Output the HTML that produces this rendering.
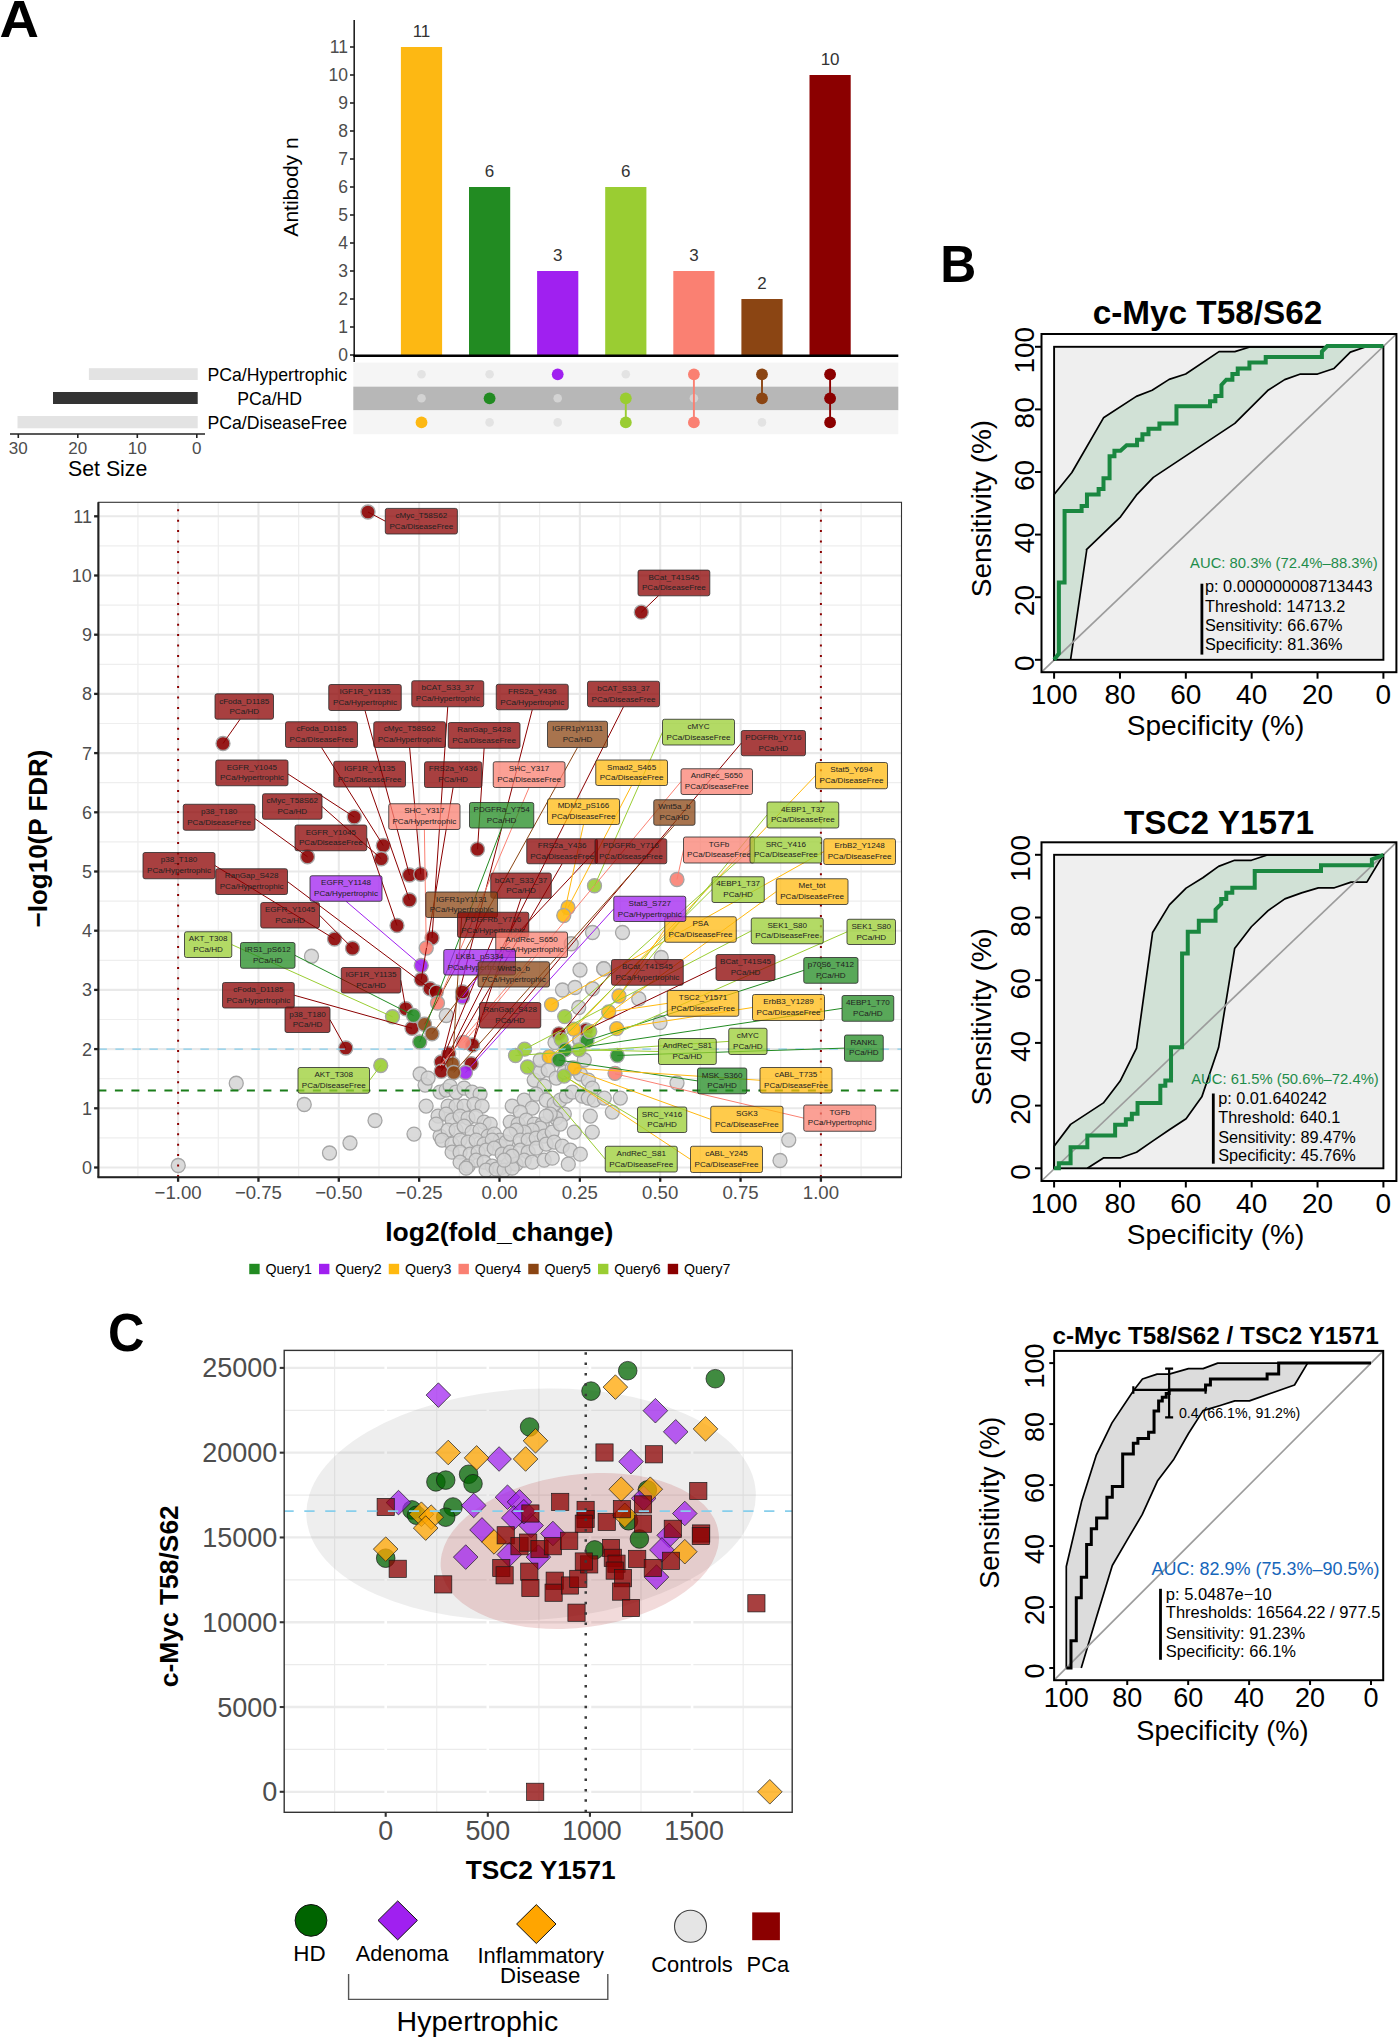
<!DOCTYPE html>
<html><head><meta charset="utf-8"><style>html,body{margin:0;padding:0;background:#fff;overflow:hidden;}svg{display:block;}text{font-family:"Liberation Sans",sans-serif;}</style></head><body><svg width="1398" height="2037" viewBox="0 0 1398 2037"><rect width="1398" height="2037" fill="#fff"/><text x="0" y="0" font-size="52.5" font-weight="bold" fill="#000" transform="translate(-0.6,36.9) scale(1.04,1)">A</text>
<line x1="354.2" y1="20" x2="354.2" y2="362" stroke="#222" stroke-width="1.6"/>
<line x1="350" y1="355.00" x2="354" y2="355.00" stroke="#222" stroke-width="1.6"/>
<text x="348.00" y="361.30" font-size="17.5" text-anchor="end" fill="#4d4d4d" >0</text>
<line x1="350" y1="327.00" x2="354" y2="327.00" stroke="#222" stroke-width="1.6"/>
<text x="348.00" y="333.30" font-size="17.5" text-anchor="end" fill="#4d4d4d" >1</text>
<line x1="350" y1="299.00" x2="354" y2="299.00" stroke="#222" stroke-width="1.6"/>
<text x="348.00" y="305.30" font-size="17.5" text-anchor="end" fill="#4d4d4d" >2</text>
<line x1="350" y1="271.00" x2="354" y2="271.00" stroke="#222" stroke-width="1.6"/>
<text x="348.00" y="277.30" font-size="17.5" text-anchor="end" fill="#4d4d4d" >3</text>
<line x1="350" y1="243.00" x2="354" y2="243.00" stroke="#222" stroke-width="1.6"/>
<text x="348.00" y="249.30" font-size="17.5" text-anchor="end" fill="#4d4d4d" >4</text>
<line x1="350" y1="215.00" x2="354" y2="215.00" stroke="#222" stroke-width="1.6"/>
<text x="348.00" y="221.30" font-size="17.5" text-anchor="end" fill="#4d4d4d" >5</text>
<line x1="350" y1="187.00" x2="354" y2="187.00" stroke="#222" stroke-width="1.6"/>
<text x="348.00" y="193.30" font-size="17.5" text-anchor="end" fill="#4d4d4d" >6</text>
<line x1="350" y1="159.00" x2="354" y2="159.00" stroke="#222" stroke-width="1.6"/>
<text x="348.00" y="165.30" font-size="17.5" text-anchor="end" fill="#4d4d4d" >7</text>
<line x1="350" y1="131.00" x2="354" y2="131.00" stroke="#222" stroke-width="1.6"/>
<text x="348.00" y="137.30" font-size="17.5" text-anchor="end" fill="#4d4d4d" >8</text>
<line x1="350" y1="103.00" x2="354" y2="103.00" stroke="#222" stroke-width="1.6"/>
<text x="348.00" y="109.30" font-size="17.5" text-anchor="end" fill="#4d4d4d" >9</text>
<line x1="350" y1="75.00" x2="354" y2="75.00" stroke="#222" stroke-width="1.6"/>
<text x="348.00" y="81.30" font-size="17.5" text-anchor="end" fill="#4d4d4d" >10</text>
<line x1="350" y1="47.00" x2="354" y2="47.00" stroke="#222" stroke-width="1.6"/>
<text x="348.00" y="53.30" font-size="17.5" text-anchor="end" fill="#4d4d4d" >11</text>
<rect x="400.90" y="47.00" width="41.2" height="308.00" fill="#FDB813"/>
<text x="421.50" y="36.50" font-size="17" text-anchor="middle" fill="#333" >11</text>
<rect x="469.00" y="187.00" width="41.2" height="168.00" fill="#228B22"/>
<text x="489.60" y="176.50" font-size="17" text-anchor="middle" fill="#333" >6</text>
<rect x="537.10" y="271.00" width="41.2" height="84.00" fill="#A020F0"/>
<text x="557.70" y="260.50" font-size="17" text-anchor="middle" fill="#333" >3</text>
<rect x="605.20" y="187.00" width="41.2" height="168.00" fill="#9ACD32"/>
<text x="625.80" y="176.50" font-size="17" text-anchor="middle" fill="#333" >6</text>
<rect x="673.30" y="271.00" width="41.2" height="84.00" fill="#FA8072"/>
<text x="693.90" y="260.50" font-size="17" text-anchor="middle" fill="#333" >3</text>
<rect x="741.40" y="299.00" width="41.2" height="56.00" fill="#8B4513"/>
<text x="762.00" y="288.50" font-size="17" text-anchor="middle" fill="#333" >2</text>
<rect x="809.50" y="75.00" width="41.2" height="280.00" fill="#8B0000"/>
<text x="830.10" y="64.50" font-size="17" text-anchor="middle" fill="#333" >10</text>
<line x1="353.3" y1="355.8" x2="898.3" y2="355.8" stroke="#000" stroke-width="2.6"/>
<text x="0" y="0" font-size="21" text-anchor="middle" fill="#000" transform="translate(298.2,187) rotate(-90)">Antibody n</text>
<rect x="353.3" y="362.6" width="545" height="23.6" fill="#f5f5f5"/>
<rect x="353.3" y="386.6" width="545" height="23.7" fill="#b7b7b7"/>
<rect x="353.3" y="410.6" width="545" height="23.6" fill="#f5f5f5"/>
<circle cx="421.50" cy="374.3" r="4.3" fill="#e3e3e3"/>
<circle cx="421.50" cy="398.3" r="4.3" fill="#d3d3d3"/>
<circle cx="421.50" cy="422.4" r="5.9" fill="#FDB813"/>
<circle cx="489.60" cy="374.3" r="4.3" fill="#e3e3e3"/>
<circle cx="489.60" cy="422.4" r="4.3" fill="#e3e3e3"/>
<circle cx="489.60" cy="398.3" r="5.9" fill="#228B22"/>
<circle cx="557.70" cy="398.3" r="4.3" fill="#d3d3d3"/>
<circle cx="557.70" cy="422.4" r="4.3" fill="#e3e3e3"/>
<circle cx="557.70" cy="374.3" r="5.9" fill="#A020F0"/>
<circle cx="625.80" cy="374.3" r="4.3" fill="#e3e3e3"/>
<line x1="625.80" y1="398.3" x2="625.80" y2="422.4" stroke="#9ACD32" stroke-width="1.9"/>
<circle cx="625.80" cy="398.3" r="5.9" fill="#9ACD32"/>
<circle cx="625.80" cy="422.4" r="5.9" fill="#9ACD32"/>
<circle cx="693.90" cy="398.3" r="4.3" fill="#d3d3d3"/>
<line x1="693.90" y1="374.3" x2="693.90" y2="422.4" stroke="#FA8072" stroke-width="1.9"/>
<circle cx="693.90" cy="374.3" r="5.9" fill="#FA8072"/>
<circle cx="693.90" cy="422.4" r="5.9" fill="#FA8072"/>
<circle cx="762.00" cy="422.4" r="4.3" fill="#e3e3e3"/>
<line x1="762.00" y1="374.3" x2="762.00" y2="398.3" stroke="#8B4513" stroke-width="1.9"/>
<circle cx="762.00" cy="374.3" r="5.9" fill="#8B4513"/>
<circle cx="762.00" cy="398.3" r="5.9" fill="#8B4513"/>
<line x1="830.10" y1="374.3" x2="830.10" y2="422.4" stroke="#8B0000" stroke-width="1.9"/>
<circle cx="830.10" cy="374.3" r="5.9" fill="#8B0000"/>
<circle cx="830.10" cy="398.3" r="5.9" fill="#8B0000"/>
<circle cx="830.10" cy="422.4" r="5.9" fill="#8B0000"/>
<rect x="88.9" y="368.2" width="108.8" height="11.8" fill="#e3e3e3"/>
<rect x="53" y="392" width="144.7" height="12" fill="#333"/>
<rect x="17.5" y="416" width="180.2" height="12.3" fill="#e3e3e3"/>
<line x1="10" y1="434" x2="205" y2="434" stroke="#222" stroke-width="1.6"/>
<line x1="18.3" y1="434" x2="18.3" y2="438" stroke="#222" stroke-width="1.6"/>
<text x="18.30" y="453.80" font-size="17" text-anchor="middle" fill="#4d4d4d" >30</text>
<line x1="77.8" y1="434" x2="77.8" y2="438" stroke="#222" stroke-width="1.6"/>
<text x="77.80" y="453.80" font-size="17" text-anchor="middle" fill="#4d4d4d" >20</text>
<line x1="137.3" y1="434" x2="137.3" y2="438" stroke="#222" stroke-width="1.6"/>
<text x="137.30" y="453.80" font-size="17" text-anchor="middle" fill="#4d4d4d" >10</text>
<line x1="196.8" y1="434" x2="196.8" y2="438" stroke="#222" stroke-width="1.6"/>
<text x="196.80" y="453.80" font-size="17" text-anchor="middle" fill="#4d4d4d" >0</text>
<text x="107.70" y="475.70" font-size="21.3" text-anchor="middle" fill="#000" >Set Size</text>
<text x="347.00" y="380.80" font-size="17.7" text-anchor="end" fill="#000" >PCa/Hypertrophic</text>
<text x="269.70" y="404.80" font-size="17.7" text-anchor="middle" fill="#000" >PCa/HD</text>
<text x="347.00" y="429.00" font-size="17.7" text-anchor="end" fill="#000" >PCa/DiseaseFree</text>
<rect x="98.4" y="502.3" width="803.10" height="675.00" fill="#fff"/>
<clipPath id="vclip"><rect x="98.4" y="502.3" width="803.10" height="675.00"/></clipPath>
<g clip-path="url(#vclip)">
<line x1="137.93" y1="502.3" x2="137.93" y2="1177.3" stroke="#eeeeee" stroke-width="1.2"/>
<line x1="218.28" y1="502.3" x2="218.28" y2="1177.3" stroke="#eeeeee" stroke-width="1.2"/>
<line x1="298.62" y1="502.3" x2="298.62" y2="1177.3" stroke="#eeeeee" stroke-width="1.2"/>
<line x1="378.98" y1="502.3" x2="378.98" y2="1177.3" stroke="#eeeeee" stroke-width="1.2"/>
<line x1="459.32" y1="502.3" x2="459.32" y2="1177.3" stroke="#eeeeee" stroke-width="1.2"/>
<line x1="539.67" y1="502.3" x2="539.67" y2="1177.3" stroke="#eeeeee" stroke-width="1.2"/>
<line x1="620.02" y1="502.3" x2="620.02" y2="1177.3" stroke="#eeeeee" stroke-width="1.2"/>
<line x1="700.38" y1="502.3" x2="700.38" y2="1177.3" stroke="#eeeeee" stroke-width="1.2"/>
<line x1="780.72" y1="502.3" x2="780.72" y2="1177.3" stroke="#eeeeee" stroke-width="1.2"/>
<line x1="861.08" y1="502.3" x2="861.08" y2="1177.3" stroke="#eeeeee" stroke-width="1.2"/>
<line x1="98.4" y1="1137.90" x2="901.5" y2="1137.90" stroke="#eeeeee" stroke-width="1.2"/>
<line x1="98.4" y1="1078.70" x2="901.5" y2="1078.70" stroke="#eeeeee" stroke-width="1.2"/>
<line x1="98.4" y1="1019.50" x2="901.5" y2="1019.50" stroke="#eeeeee" stroke-width="1.2"/>
<line x1="98.4" y1="960.30" x2="901.5" y2="960.30" stroke="#eeeeee" stroke-width="1.2"/>
<line x1="98.4" y1="901.10" x2="901.5" y2="901.10" stroke="#eeeeee" stroke-width="1.2"/>
<line x1="98.4" y1="841.90" x2="901.5" y2="841.90" stroke="#eeeeee" stroke-width="1.2"/>
<line x1="98.4" y1="782.70" x2="901.5" y2="782.70" stroke="#eeeeee" stroke-width="1.2"/>
<line x1="98.4" y1="723.50" x2="901.5" y2="723.50" stroke="#eeeeee" stroke-width="1.2"/>
<line x1="98.4" y1="664.30" x2="901.5" y2="664.30" stroke="#eeeeee" stroke-width="1.2"/>
<line x1="98.4" y1="605.10" x2="901.5" y2="605.10" stroke="#eeeeee" stroke-width="1.2"/>
<line x1="98.4" y1="545.90" x2="901.5" y2="545.90" stroke="#eeeeee" stroke-width="1.2"/>
<line x1="98.4" y1="486.70" x2="901.5" y2="486.70" stroke="#eeeeee" stroke-width="1.2"/>
<line x1="178.10" y1="502.3" x2="178.10" y2="1177.3" stroke="#e9e9e9" stroke-width="2.1"/>
<line x1="258.45" y1="502.3" x2="258.45" y2="1177.3" stroke="#e9e9e9" stroke-width="2.1"/>
<line x1="338.80" y1="502.3" x2="338.80" y2="1177.3" stroke="#e9e9e9" stroke-width="2.1"/>
<line x1="419.15" y1="502.3" x2="419.15" y2="1177.3" stroke="#e9e9e9" stroke-width="2.1"/>
<line x1="499.50" y1="502.3" x2="499.50" y2="1177.3" stroke="#e9e9e9" stroke-width="2.1"/>
<line x1="579.85" y1="502.3" x2="579.85" y2="1177.3" stroke="#e9e9e9" stroke-width="2.1"/>
<line x1="660.20" y1="502.3" x2="660.20" y2="1177.3" stroke="#e9e9e9" stroke-width="2.1"/>
<line x1="740.55" y1="502.3" x2="740.55" y2="1177.3" stroke="#e9e9e9" stroke-width="2.1"/>
<line x1="820.90" y1="502.3" x2="820.90" y2="1177.3" stroke="#e9e9e9" stroke-width="2.1"/>
<line x1="98.4" y1="1167.50" x2="901.5" y2="1167.50" stroke="#e9e9e9" stroke-width="2.1"/>
<line x1="98.4" y1="1108.30" x2="901.5" y2="1108.30" stroke="#e9e9e9" stroke-width="2.1"/>
<line x1="98.4" y1="1049.10" x2="901.5" y2="1049.10" stroke="#e9e9e9" stroke-width="2.1"/>
<line x1="98.4" y1="989.90" x2="901.5" y2="989.90" stroke="#e9e9e9" stroke-width="2.1"/>
<line x1="98.4" y1="930.70" x2="901.5" y2="930.70" stroke="#e9e9e9" stroke-width="2.1"/>
<line x1="98.4" y1="871.50" x2="901.5" y2="871.50" stroke="#e9e9e9" stroke-width="2.1"/>
<line x1="98.4" y1="812.30" x2="901.5" y2="812.30" stroke="#e9e9e9" stroke-width="2.1"/>
<line x1="98.4" y1="753.10" x2="901.5" y2="753.10" stroke="#e9e9e9" stroke-width="2.1"/>
<line x1="98.4" y1="693.90" x2="901.5" y2="693.90" stroke="#e9e9e9" stroke-width="2.1"/>
<line x1="98.4" y1="634.70" x2="901.5" y2="634.70" stroke="#e9e9e9" stroke-width="2.1"/>
<line x1="98.4" y1="575.50" x2="901.5" y2="575.50" stroke="#e9e9e9" stroke-width="2.1"/>
<line x1="98.4" y1="516.30" x2="901.5" y2="516.30" stroke="#e9e9e9" stroke-width="2.1"/>
<circle cx="311.5" cy="956.25" r="7" fill="#d3d3d3" fill-opacity="0.85" stroke="#a6a6a6" stroke-width="1.3"/>
<circle cx="236.25" cy="1083.25" r="7" fill="#d3d3d3" fill-opacity="0.85" stroke="#a6a6a6" stroke-width="1.3"/>
<circle cx="304.25" cy="1104.5" r="7" fill="#d3d3d3" fill-opacity="0.85" stroke="#a6a6a6" stroke-width="1.3"/>
<circle cx="375" cy="1120.5" r="7" fill="#d3d3d3" fill-opacity="0.85" stroke="#a6a6a6" stroke-width="1.3"/>
<circle cx="350" cy="1143" r="7" fill="#d3d3d3" fill-opacity="0.85" stroke="#a6a6a6" stroke-width="1.3"/>
<circle cx="329.5" cy="1153" r="7" fill="#d3d3d3" fill-opacity="0.85" stroke="#a6a6a6" stroke-width="1.3"/>
<circle cx="178.25" cy="1165.5" r="7" fill="#d3d3d3" fill-opacity="0.85" stroke="#a6a6a6" stroke-width="1.3"/>
<circle cx="446.25" cy="1015.5" r="7" fill="#d3d3d3" fill-opacity="0.85" stroke="#a6a6a6" stroke-width="1.3"/>
<circle cx="622.5" cy="932.5" r="7" fill="#d3d3d3" fill-opacity="0.85" stroke="#a6a6a6" stroke-width="1.3"/>
<circle cx="592.5" cy="932.5" r="7" fill="#d3d3d3" fill-opacity="0.85" stroke="#a6a6a6" stroke-width="1.3"/>
<circle cx="571.25" cy="943.75" r="7" fill="#d3d3d3" fill-opacity="0.85" stroke="#a6a6a6" stroke-width="1.3"/>
<circle cx="661.25" cy="957.5" r="7" fill="#d3d3d3" fill-opacity="0.85" stroke="#a6a6a6" stroke-width="1.3"/>
<circle cx="580" cy="970" r="7" fill="#d3d3d3" fill-opacity="0.85" stroke="#a6a6a6" stroke-width="1.3"/>
<circle cx="603.75" cy="968.75" r="7" fill="#d3d3d3" fill-opacity="0.85" stroke="#a6a6a6" stroke-width="1.3"/>
<circle cx="562.5" cy="990" r="7" fill="#d3d3d3" fill-opacity="0.85" stroke="#a6a6a6" stroke-width="1.3"/>
<circle cx="575" cy="987.5" r="7" fill="#d3d3d3" fill-opacity="0.85" stroke="#a6a6a6" stroke-width="1.3"/>
<circle cx="592.5" cy="988.75" r="7" fill="#d3d3d3" fill-opacity="0.85" stroke="#a6a6a6" stroke-width="1.3"/>
<circle cx="578.75" cy="1007.5" r="7" fill="#d3d3d3" fill-opacity="0.85" stroke="#a6a6a6" stroke-width="1.3"/>
<circle cx="638.75" cy="998.75" r="7" fill="#d3d3d3" fill-opacity="0.85" stroke="#a6a6a6" stroke-width="1.3"/>
<circle cx="660" cy="1022.5" r="7" fill="#d3d3d3" fill-opacity="0.85" stroke="#a6a6a6" stroke-width="1.3"/>
<circle cx="677" cy="1083" r="7" fill="#d3d3d3" fill-opacity="0.85" stroke="#a6a6a6" stroke-width="1.3"/>
<circle cx="788.75" cy="1140" r="7" fill="#d3d3d3" fill-opacity="0.85" stroke="#a6a6a6" stroke-width="1.3"/>
<circle cx="780" cy="1160.5" r="7" fill="#d3d3d3" fill-opacity="0.85" stroke="#a6a6a6" stroke-width="1.3"/>
<circle cx="579.5" cy="1040.1" r="7" fill="#d3d3d3" fill-opacity="0.85" stroke="#a6a6a6" stroke-width="1.3"/>
<circle cx="555" cy="1042.5" r="7" fill="#d3d3d3" fill-opacity="0.85" stroke="#a6a6a6" stroke-width="1.3"/>
<circle cx="580" cy="1040" r="7" fill="#d3d3d3" fill-opacity="0.85" stroke="#a6a6a6" stroke-width="1.3"/>
<circle cx="603.75" cy="968.75" r="7" fill="#d3d3d3" fill-opacity="0.85" stroke="#a6a6a6" stroke-width="1.3"/>
<circle cx="420.1" cy="1074.0" r="7" fill="#d3d3d3" fill-opacity="0.85" stroke="#a6a6a6" stroke-width="1.3"/>
<circle cx="425.1" cy="1085.1" r="7" fill="#d3d3d3" fill-opacity="0.85" stroke="#a6a6a6" stroke-width="1.3"/>
<circle cx="428.1" cy="1078.1" r="7" fill="#d3d3d3" fill-opacity="0.85" stroke="#a6a6a6" stroke-width="1.3"/>
<circle cx="426.1" cy="1106.1" r="7" fill="#d3d3d3" fill-opacity="0.85" stroke="#a6a6a6" stroke-width="1.3"/>
<circle cx="414.0" cy="1134.1" r="7" fill="#d3d3d3" fill-opacity="0.85" stroke="#a6a6a6" stroke-width="1.3"/>
<circle cx="440.1" cy="1092.1" r="7" fill="#d3d3d3" fill-opacity="0.85" stroke="#a6a6a6" stroke-width="1.3"/>
<circle cx="446.1" cy="1090.1" r="7" fill="#d3d3d3" fill-opacity="0.85" stroke="#a6a6a6" stroke-width="1.3"/>
<circle cx="450.1" cy="1086.1" r="7" fill="#d3d3d3" fill-opacity="0.85" stroke="#a6a6a6" stroke-width="1.3"/>
<circle cx="456.1" cy="1092.1" r="7" fill="#d3d3d3" fill-opacity="0.85" stroke="#a6a6a6" stroke-width="1.3"/>
<circle cx="464.1" cy="1088.1" r="7" fill="#d3d3d3" fill-opacity="0.85" stroke="#a6a6a6" stroke-width="1.3"/>
<circle cx="472.1" cy="1092.1" r="7" fill="#d3d3d3" fill-opacity="0.85" stroke="#a6a6a6" stroke-width="1.3"/>
<circle cx="480.1" cy="1094.1" r="7" fill="#d3d3d3" fill-opacity="0.85" stroke="#a6a6a6" stroke-width="1.3"/>
<circle cx="448.1" cy="1106.1" r="7" fill="#d3d3d3" fill-opacity="0.85" stroke="#a6a6a6" stroke-width="1.3"/>
<circle cx="456.1" cy="1106.1" r="7" fill="#d3d3d3" fill-opacity="0.85" stroke="#a6a6a6" stroke-width="1.3"/>
<circle cx="464.1" cy="1106.1" r="7" fill="#d3d3d3" fill-opacity="0.85" stroke="#a6a6a6" stroke-width="1.3"/>
<circle cx="474.1" cy="1104.1" r="7" fill="#d3d3d3" fill-opacity="0.85" stroke="#a6a6a6" stroke-width="1.3"/>
<circle cx="482.1" cy="1106.1" r="7" fill="#d3d3d3" fill-opacity="0.85" stroke="#a6a6a6" stroke-width="1.3"/>
<circle cx="438.1" cy="1116.1" r="7" fill="#d3d3d3" fill-opacity="0.85" stroke="#a6a6a6" stroke-width="1.3"/>
<circle cx="446.1" cy="1114.1" r="7" fill="#d3d3d3" fill-opacity="0.85" stroke="#a6a6a6" stroke-width="1.3"/>
<circle cx="452.1" cy="1120.1" r="7" fill="#d3d3d3" fill-opacity="0.85" stroke="#a6a6a6" stroke-width="1.3"/>
<circle cx="460.1" cy="1116.1" r="7" fill="#d3d3d3" fill-opacity="0.85" stroke="#a6a6a6" stroke-width="1.3"/>
<circle cx="468.1" cy="1118.1" r="7" fill="#d3d3d3" fill-opacity="0.85" stroke="#a6a6a6" stroke-width="1.3"/>
<circle cx="476.1" cy="1116.1" r="7" fill="#d3d3d3" fill-opacity="0.85" stroke="#a6a6a6" stroke-width="1.3"/>
<circle cx="484.1" cy="1122.1" r="7" fill="#d3d3d3" fill-opacity="0.85" stroke="#a6a6a6" stroke-width="1.3"/>
<circle cx="490.2" cy="1124.1" r="7" fill="#d3d3d3" fill-opacity="0.85" stroke="#a6a6a6" stroke-width="1.3"/>
<circle cx="440.1" cy="1136.1" r="7" fill="#d3d3d3" fill-opacity="0.85" stroke="#a6a6a6" stroke-width="1.3"/>
<circle cx="436.1" cy="1124.1" r="7" fill="#d3d3d3" fill-opacity="0.85" stroke="#a6a6a6" stroke-width="1.3"/>
<circle cx="448.1" cy="1130.1" r="7" fill="#d3d3d3" fill-opacity="0.85" stroke="#a6a6a6" stroke-width="1.3"/>
<circle cx="456.1" cy="1130.1" r="7" fill="#d3d3d3" fill-opacity="0.85" stroke="#a6a6a6" stroke-width="1.3"/>
<circle cx="464.1" cy="1126.1" r="7" fill="#d3d3d3" fill-opacity="0.85" stroke="#a6a6a6" stroke-width="1.3"/>
<circle cx="472.1" cy="1132.1" r="7" fill="#d3d3d3" fill-opacity="0.85" stroke="#a6a6a6" stroke-width="1.3"/>
<circle cx="480.1" cy="1130.1" r="7" fill="#d3d3d3" fill-opacity="0.85" stroke="#a6a6a6" stroke-width="1.3"/>
<circle cx="488.2" cy="1136.1" r="7" fill="#d3d3d3" fill-opacity="0.85" stroke="#a6a6a6" stroke-width="1.3"/>
<circle cx="494.2" cy="1134.1" r="7" fill="#d3d3d3" fill-opacity="0.85" stroke="#a6a6a6" stroke-width="1.3"/>
<circle cx="500.2" cy="1140.1" r="7" fill="#d3d3d3" fill-opacity="0.85" stroke="#a6a6a6" stroke-width="1.3"/>
<circle cx="442.1" cy="1140.1" r="7" fill="#d3d3d3" fill-opacity="0.85" stroke="#a6a6a6" stroke-width="1.3"/>
<circle cx="452.1" cy="1144.1" r="7" fill="#d3d3d3" fill-opacity="0.85" stroke="#a6a6a6" stroke-width="1.3"/>
<circle cx="460.1" cy="1140.1" r="7" fill="#d3d3d3" fill-opacity="0.85" stroke="#a6a6a6" stroke-width="1.3"/>
<circle cx="468.1" cy="1142.1" r="7" fill="#d3d3d3" fill-opacity="0.85" stroke="#a6a6a6" stroke-width="1.3"/>
<circle cx="476.1" cy="1140.1" r="7" fill="#d3d3d3" fill-opacity="0.85" stroke="#a6a6a6" stroke-width="1.3"/>
<circle cx="484.1" cy="1144.1" r="7" fill="#d3d3d3" fill-opacity="0.85" stroke="#a6a6a6" stroke-width="1.3"/>
<circle cx="492.2" cy="1140.1" r="7" fill="#d3d3d3" fill-opacity="0.85" stroke="#a6a6a6" stroke-width="1.3"/>
<circle cx="500.2" cy="1146.1" r="7" fill="#d3d3d3" fill-opacity="0.85" stroke="#a6a6a6" stroke-width="1.3"/>
<circle cx="506.2" cy="1142.1" r="7" fill="#d3d3d3" fill-opacity="0.85" stroke="#a6a6a6" stroke-width="1.3"/>
<circle cx="452.1" cy="1152.2" r="7" fill="#d3d3d3" fill-opacity="0.85" stroke="#a6a6a6" stroke-width="1.3"/>
<circle cx="460.1" cy="1152.2" r="7" fill="#d3d3d3" fill-opacity="0.85" stroke="#a6a6a6" stroke-width="1.3"/>
<circle cx="470.1" cy="1154.2" r="7" fill="#d3d3d3" fill-opacity="0.85" stroke="#a6a6a6" stroke-width="1.3"/>
<circle cx="478.1" cy="1152.2" r="7" fill="#d3d3d3" fill-opacity="0.85" stroke="#a6a6a6" stroke-width="1.3"/>
<circle cx="486.1" cy="1150.2" r="7" fill="#d3d3d3" fill-opacity="0.85" stroke="#a6a6a6" stroke-width="1.3"/>
<circle cx="494.2" cy="1148.2" r="7" fill="#d3d3d3" fill-opacity="0.85" stroke="#a6a6a6" stroke-width="1.3"/>
<circle cx="502.2" cy="1154.2" r="7" fill="#d3d3d3" fill-opacity="0.85" stroke="#a6a6a6" stroke-width="1.3"/>
<circle cx="510.2" cy="1152.2" r="7" fill="#d3d3d3" fill-opacity="0.85" stroke="#a6a6a6" stroke-width="1.3"/>
<circle cx="460.1" cy="1162.2" r="7" fill="#d3d3d3" fill-opacity="0.85" stroke="#a6a6a6" stroke-width="1.3"/>
<circle cx="468.1" cy="1166.2" r="7" fill="#d3d3d3" fill-opacity="0.85" stroke="#a6a6a6" stroke-width="1.3"/>
<circle cx="476.1" cy="1160.2" r="7" fill="#d3d3d3" fill-opacity="0.85" stroke="#a6a6a6" stroke-width="1.3"/>
<circle cx="484.1" cy="1162.2" r="7" fill="#d3d3d3" fill-opacity="0.85" stroke="#a6a6a6" stroke-width="1.3"/>
<circle cx="492.2" cy="1166.2" r="7" fill="#d3d3d3" fill-opacity="0.85" stroke="#a6a6a6" stroke-width="1.3"/>
<circle cx="500.2" cy="1168.2" r="7" fill="#d3d3d3" fill-opacity="0.85" stroke="#a6a6a6" stroke-width="1.3"/>
<circle cx="508.2" cy="1164.2" r="7" fill="#d3d3d3" fill-opacity="0.85" stroke="#a6a6a6" stroke-width="1.3"/>
<circle cx="516.2" cy="1164.2" r="7" fill="#d3d3d3" fill-opacity="0.85" stroke="#a6a6a6" stroke-width="1.3"/>
<circle cx="466.1" cy="1168.2" r="7" fill="#d3d3d3" fill-opacity="0.85" stroke="#a6a6a6" stroke-width="1.3"/>
<circle cx="486.1" cy="1170.2" r="7" fill="#d3d3d3" fill-opacity="0.85" stroke="#a6a6a6" stroke-width="1.3"/>
<circle cx="496.2" cy="1169.2" r="7" fill="#d3d3d3" fill-opacity="0.85" stroke="#a6a6a6" stroke-width="1.3"/>
<circle cx="504.2" cy="1170.2" r="7" fill="#d3d3d3" fill-opacity="0.85" stroke="#a6a6a6" stroke-width="1.3"/>
<circle cx="512.2" cy="1168.2" r="7" fill="#d3d3d3" fill-opacity="0.85" stroke="#a6a6a6" stroke-width="1.3"/>
<circle cx="512.2" cy="1106.1" r="7" fill="#d3d3d3" fill-opacity="0.85" stroke="#a6a6a6" stroke-width="1.3"/>
<circle cx="524.2" cy="1100.1" r="7" fill="#d3d3d3" fill-opacity="0.85" stroke="#a6a6a6" stroke-width="1.3"/>
<circle cx="532.2" cy="1108.1" r="7" fill="#d3d3d3" fill-opacity="0.85" stroke="#a6a6a6" stroke-width="1.3"/>
<circle cx="520.2" cy="1112.1" r="7" fill="#d3d3d3" fill-opacity="0.85" stroke="#a6a6a6" stroke-width="1.3"/>
<circle cx="510.2" cy="1122.1" r="7" fill="#d3d3d3" fill-opacity="0.85" stroke="#a6a6a6" stroke-width="1.3"/>
<circle cx="518.2" cy="1124.1" r="7" fill="#d3d3d3" fill-opacity="0.85" stroke="#a6a6a6" stroke-width="1.3"/>
<circle cx="526.2" cy="1120.1" r="7" fill="#d3d3d3" fill-opacity="0.85" stroke="#a6a6a6" stroke-width="1.3"/>
<circle cx="534.2" cy="1124.1" r="7" fill="#d3d3d3" fill-opacity="0.85" stroke="#a6a6a6" stroke-width="1.3"/>
<circle cx="542.2" cy="1124.1" r="7" fill="#d3d3d3" fill-opacity="0.85" stroke="#a6a6a6" stroke-width="1.3"/>
<circle cx="534.2" cy="1080.1" r="7" fill="#d3d3d3" fill-opacity="0.85" stroke="#a6a6a6" stroke-width="1.3"/>
<circle cx="540.2" cy="1072.0" r="7" fill="#d3d3d3" fill-opacity="0.85" stroke="#a6a6a6" stroke-width="1.3"/>
<circle cx="544.2" cy="1086.1" r="7" fill="#d3d3d3" fill-opacity="0.85" stroke="#a6a6a6" stroke-width="1.3"/>
<circle cx="536.2" cy="1094.1" r="7" fill="#d3d3d3" fill-opacity="0.85" stroke="#a6a6a6" stroke-width="1.3"/>
<circle cx="546.2" cy="1100.1" r="7" fill="#d3d3d3" fill-opacity="0.85" stroke="#a6a6a6" stroke-width="1.3"/>
<circle cx="554.2" cy="1104.1" r="7" fill="#d3d3d3" fill-opacity="0.85" stroke="#a6a6a6" stroke-width="1.3"/>
<circle cx="560.3" cy="1100.1" r="7" fill="#d3d3d3" fill-opacity="0.85" stroke="#a6a6a6" stroke-width="1.3"/>
<circle cx="566.3" cy="1096.1" r="7" fill="#d3d3d3" fill-opacity="0.85" stroke="#a6a6a6" stroke-width="1.3"/>
<circle cx="572.3" cy="1092.1" r="7" fill="#d3d3d3" fill-opacity="0.85" stroke="#a6a6a6" stroke-width="1.3"/>
<circle cx="540.2" cy="1060.0" r="7" fill="#d3d3d3" fill-opacity="0.85" stroke="#a6a6a6" stroke-width="1.3"/>
<circle cx="548.2" cy="1070.0" r="7" fill="#d3d3d3" fill-opacity="0.85" stroke="#a6a6a6" stroke-width="1.3"/>
<circle cx="556.2" cy="1078.1" r="7" fill="#d3d3d3" fill-opacity="0.85" stroke="#a6a6a6" stroke-width="1.3"/>
<circle cx="564.3" cy="1072.0" r="7" fill="#d3d3d3" fill-opacity="0.85" stroke="#a6a6a6" stroke-width="1.3"/>
<circle cx="572.3" cy="1068.0" r="7" fill="#d3d3d3" fill-opacity="0.85" stroke="#a6a6a6" stroke-width="1.3"/>
<circle cx="580.3" cy="1074.0" r="7" fill="#d3d3d3" fill-opacity="0.85" stroke="#a6a6a6" stroke-width="1.3"/>
<circle cx="584.3" cy="1060.0" r="7" fill="#d3d3d3" fill-opacity="0.85" stroke="#a6a6a6" stroke-width="1.3"/>
<circle cx="588.3" cy="1080.1" r="7" fill="#d3d3d3" fill-opacity="0.85" stroke="#a6a6a6" stroke-width="1.3"/>
<circle cx="592.3" cy="1088.1" r="7" fill="#d3d3d3" fill-opacity="0.85" stroke="#a6a6a6" stroke-width="1.3"/>
<circle cx="582.3" cy="1096.1" r="7" fill="#d3d3d3" fill-opacity="0.85" stroke="#a6a6a6" stroke-width="1.3"/>
<circle cx="588.3" cy="1098.1" r="7" fill="#d3d3d3" fill-opacity="0.85" stroke="#a6a6a6" stroke-width="1.3"/>
<circle cx="594.3" cy="1100.1" r="7" fill="#d3d3d3" fill-opacity="0.85" stroke="#a6a6a6" stroke-width="1.3"/>
<circle cx="604.3" cy="1098.1" r="7" fill="#d3d3d3" fill-opacity="0.85" stroke="#a6a6a6" stroke-width="1.3"/>
<circle cx="620.3" cy="1098.1" r="7" fill="#d3d3d3" fill-opacity="0.85" stroke="#a6a6a6" stroke-width="1.3"/>
<circle cx="612.3" cy="1112.1" r="7" fill="#d3d3d3" fill-opacity="0.85" stroke="#a6a6a6" stroke-width="1.3"/>
<circle cx="590.3" cy="1116.1" r="7" fill="#d3d3d3" fill-opacity="0.85" stroke="#a6a6a6" stroke-width="1.3"/>
<circle cx="592.3" cy="1132.1" r="7" fill="#d3d3d3" fill-opacity="0.85" stroke="#a6a6a6" stroke-width="1.3"/>
<circle cx="574.3" cy="1132.1" r="7" fill="#d3d3d3" fill-opacity="0.85" stroke="#a6a6a6" stroke-width="1.3"/>
<circle cx="564.3" cy="1114.1" r="7" fill="#d3d3d3" fill-opacity="0.85" stroke="#a6a6a6" stroke-width="1.3"/>
<circle cx="556.2" cy="1118.1" r="7" fill="#d3d3d3" fill-opacity="0.85" stroke="#a6a6a6" stroke-width="1.3"/>
<circle cx="550.2" cy="1114.1" r="7" fill="#d3d3d3" fill-opacity="0.85" stroke="#a6a6a6" stroke-width="1.3"/>
<circle cx="546.2" cy="1116.1" r="7" fill="#d3d3d3" fill-opacity="0.85" stroke="#a6a6a6" stroke-width="1.3"/>
<circle cx="540.2" cy="1128.1" r="7" fill="#d3d3d3" fill-opacity="0.85" stroke="#a6a6a6" stroke-width="1.3"/>
<circle cx="532.2" cy="1130.1" r="7" fill="#d3d3d3" fill-opacity="0.85" stroke="#a6a6a6" stroke-width="1.3"/>
<circle cx="524.2" cy="1132.1" r="7" fill="#d3d3d3" fill-opacity="0.85" stroke="#a6a6a6" stroke-width="1.3"/>
<circle cx="516.2" cy="1130.1" r="7" fill="#d3d3d3" fill-opacity="0.85" stroke="#a6a6a6" stroke-width="1.3"/>
<circle cx="510.2" cy="1134.1" r="7" fill="#d3d3d3" fill-opacity="0.85" stroke="#a6a6a6" stroke-width="1.3"/>
<circle cx="520.2" cy="1140.1" r="7" fill="#d3d3d3" fill-opacity="0.85" stroke="#a6a6a6" stroke-width="1.3"/>
<circle cx="528.2" cy="1140.1" r="7" fill="#d3d3d3" fill-opacity="0.85" stroke="#a6a6a6" stroke-width="1.3"/>
<circle cx="536.2" cy="1138.1" r="7" fill="#d3d3d3" fill-opacity="0.85" stroke="#a6a6a6" stroke-width="1.3"/>
<circle cx="544.2" cy="1136.1" r="7" fill="#d3d3d3" fill-opacity="0.85" stroke="#a6a6a6" stroke-width="1.3"/>
<circle cx="552.2" cy="1132.1" r="7" fill="#d3d3d3" fill-opacity="0.85" stroke="#a6a6a6" stroke-width="1.3"/>
<circle cx="560.3" cy="1124.1" r="7" fill="#d3d3d3" fill-opacity="0.85" stroke="#a6a6a6" stroke-width="1.3"/>
<circle cx="520.2" cy="1150.2" r="7" fill="#d3d3d3" fill-opacity="0.85" stroke="#a6a6a6" stroke-width="1.3"/>
<circle cx="528.2" cy="1152.2" r="7" fill="#d3d3d3" fill-opacity="0.85" stroke="#a6a6a6" stroke-width="1.3"/>
<circle cx="536.2" cy="1148.2" r="7" fill="#d3d3d3" fill-opacity="0.85" stroke="#a6a6a6" stroke-width="1.3"/>
<circle cx="546.2" cy="1144.1" r="7" fill="#d3d3d3" fill-opacity="0.85" stroke="#a6a6a6" stroke-width="1.3"/>
<circle cx="554.2" cy="1142.1" r="7" fill="#d3d3d3" fill-opacity="0.85" stroke="#a6a6a6" stroke-width="1.3"/>
<circle cx="562.3" cy="1146.1" r="7" fill="#d3d3d3" fill-opacity="0.85" stroke="#a6a6a6" stroke-width="1.3"/>
<circle cx="570.3" cy="1150.2" r="7" fill="#d3d3d3" fill-opacity="0.85" stroke="#a6a6a6" stroke-width="1.3"/>
<circle cx="580.3" cy="1154.2" r="7" fill="#d3d3d3" fill-opacity="0.85" stroke="#a6a6a6" stroke-width="1.3"/>
<circle cx="524.2" cy="1160.2" r="7" fill="#d3d3d3" fill-opacity="0.85" stroke="#a6a6a6" stroke-width="1.3"/>
<circle cx="532.2" cy="1162.2" r="7" fill="#d3d3d3" fill-opacity="0.85" stroke="#a6a6a6" stroke-width="1.3"/>
<circle cx="544.2" cy="1160.2" r="7" fill="#d3d3d3" fill-opacity="0.85" stroke="#a6a6a6" stroke-width="1.3"/>
<circle cx="552.2" cy="1158.2" r="7" fill="#d3d3d3" fill-opacity="0.85" stroke="#a6a6a6" stroke-width="1.3"/>
<circle cx="568.3" cy="1164.2" r="7" fill="#d3d3d3" fill-opacity="0.85" stroke="#a6a6a6" stroke-width="1.3"/>
<circle cx="512.2" cy="1156.2" r="7" fill="#d3d3d3" fill-opacity="0.85" stroke="#a6a6a6" stroke-width="1.3"/>
<circle cx="504.2" cy="1160.2" r="7" fill="#d3d3d3" fill-opacity="0.85" stroke="#a6a6a6" stroke-width="1.3"/>
<circle cx="368" cy="512" r="7" fill="#8B0000" fill-opacity="0.9" stroke="#a6a6a6" stroke-width="1.3"/>
<circle cx="641.3" cy="612.2" r="7" fill="#8B0000" fill-opacity="0.9" stroke="#a6a6a6" stroke-width="1.3"/>
<circle cx="223" cy="743.5" r="7" fill="#8B0000" fill-opacity="0.9" stroke="#a6a6a6" stroke-width="1.3"/>
<circle cx="354.25" cy="817" r="7" fill="#8B0000" fill-opacity="0.9" stroke="#a6a6a6" stroke-width="1.3"/>
<circle cx="383.25" cy="845.5" r="7" fill="#8B0000" fill-opacity="0.9" stroke="#a6a6a6" stroke-width="1.3"/>
<circle cx="381.25" cy="858.75" r="7" fill="#8B0000" fill-opacity="0.9" stroke="#a6a6a6" stroke-width="1.3"/>
<circle cx="307.5" cy="856.75" r="7" fill="#8B0000" fill-opacity="0.9" stroke="#a6a6a6" stroke-width="1.3"/>
<circle cx="409.5" cy="875" r="7" fill="#8B0000" fill-opacity="0.9" stroke="#a6a6a6" stroke-width="1.3"/>
<circle cx="420.75" cy="874.25" r="7" fill="#8B0000" fill-opacity="0.9" stroke="#a6a6a6" stroke-width="1.3"/>
<circle cx="409.5" cy="900" r="7" fill="#8B0000" fill-opacity="0.9" stroke="#a6a6a6" stroke-width="1.3"/>
<circle cx="397" cy="925.5" r="7" fill="#8B0000" fill-opacity="0.9" stroke="#a6a6a6" stroke-width="1.3"/>
<circle cx="334.5" cy="939" r="7" fill="#8B0000" fill-opacity="0.9" stroke="#a6a6a6" stroke-width="1.3"/>
<circle cx="432" cy="938" r="7" fill="#8B0000" fill-opacity="0.9" stroke="#a6a6a6" stroke-width="1.3"/>
<circle cx="352.5" cy="948.25" r="7" fill="#8B0000" fill-opacity="0.9" stroke="#a6a6a6" stroke-width="1.3"/>
<circle cx="477.5" cy="849.25" r="7" fill="#8B0000" fill-opacity="0.9" stroke="#a6a6a6" stroke-width="1.3"/>
<circle cx="421.25" cy="979.5" r="7" fill="#8B0000" fill-opacity="0.9" stroke="#a6a6a6" stroke-width="1.3"/>
<circle cx="430" cy="988.75" r="7" fill="#8B0000" fill-opacity="0.9" stroke="#a6a6a6" stroke-width="1.3"/>
<circle cx="436.25" cy="992" r="7" fill="#8B0000" fill-opacity="0.9" stroke="#a6a6a6" stroke-width="1.3"/>
<circle cx="405.75" cy="1008.75" r="7" fill="#8B0000" fill-opacity="0.9" stroke="#a6a6a6" stroke-width="1.3"/>
<circle cx="412" cy="1028.25" r="7" fill="#8B0000" fill-opacity="0.9" stroke="#a6a6a6" stroke-width="1.3"/>
<circle cx="345.75" cy="1048" r="7" fill="#8B0000" fill-opacity="0.9" stroke="#a6a6a6" stroke-width="1.3"/>
<circle cx="441.25" cy="1062" r="7" fill="#8B0000" fill-opacity="0.9" stroke="#a6a6a6" stroke-width="1.3"/>
<circle cx="441.25" cy="1071.25" r="7" fill="#8B0000" fill-opacity="0.9" stroke="#a6a6a6" stroke-width="1.3"/>
<circle cx="448.75" cy="1053.75" r="7" fill="#8B0000" fill-opacity="0.9" stroke="#a6a6a6" stroke-width="1.3"/>
<circle cx="472.5" cy="1045" r="7" fill="#8B0000" fill-opacity="0.9" stroke="#a6a6a6" stroke-width="1.3"/>
<circle cx="471.25" cy="1063.75" r="7" fill="#8B0000" fill-opacity="0.9" stroke="#a6a6a6" stroke-width="1.3"/>
<circle cx="462.5" cy="997" r="7" fill="#A020F0" fill-opacity="0.9" stroke="#a6a6a6" stroke-width="1.3"/>
<circle cx="462.5" cy="992" r="7" fill="#8B0000" fill-opacity="0.9" stroke="#a6a6a6" stroke-width="1.3"/>
<circle cx="558.9" cy="1033.8" r="7" fill="#8B0000" fill-opacity="0.9" stroke="#a6a6a6" stroke-width="1.3"/>
<circle cx="586" cy="1030" r="7" fill="#8B0000" fill-opacity="0.9" stroke="#a6a6a6" stroke-width="1.3"/>
<circle cx="421.25" cy="965.5" r="7" fill="#A020F0" fill-opacity="0.9" stroke="#a6a6a6" stroke-width="1.3"/>
<circle cx="465.5" cy="1072.5" r="7" fill="#A020F0" fill-opacity="0.9" stroke="#a6a6a6" stroke-width="1.3"/>
<circle cx="426.25" cy="948" r="7" fill="#FA8072" fill-opacity="0.9" stroke="#a6a6a6" stroke-width="1.3"/>
<circle cx="437.5" cy="1003" r="7" fill="#FA8072" fill-opacity="0.9" stroke="#a6a6a6" stroke-width="1.3"/>
<circle cx="463.75" cy="1042.5" r="7" fill="#FA8072" fill-opacity="0.9" stroke="#a6a6a6" stroke-width="1.3"/>
<circle cx="677" cy="879.5" r="7" fill="#FA8072" fill-opacity="0.9" stroke="#a6a6a6" stroke-width="1.3"/>
<circle cx="615" cy="1073.3" r="7" fill="#FA8072" fill-opacity="0.9" stroke="#a6a6a6" stroke-width="1.3"/>
<circle cx="424.5" cy="1024.25" r="7" fill="#8B4513" fill-opacity="0.9" stroke="#a6a6a6" stroke-width="1.3"/>
<circle cx="432" cy="1033.75" r="7" fill="#8B4513" fill-opacity="0.9" stroke="#a6a6a6" stroke-width="1.3"/>
<circle cx="452.5" cy="1063.75" r="7" fill="#8B4513" fill-opacity="0.9" stroke="#a6a6a6" stroke-width="1.3"/>
<circle cx="453.75" cy="1072.5" r="7" fill="#8B4513" fill-opacity="0.9" stroke="#a6a6a6" stroke-width="1.3"/>
<circle cx="413.5" cy="1015.5" r="7" fill="#228B22" fill-opacity="0.9" stroke="#a6a6a6" stroke-width="1.3"/>
<circle cx="419.75" cy="1042" r="7" fill="#228B22" fill-opacity="0.9" stroke="#a6a6a6" stroke-width="1.3"/>
<circle cx="587" cy="1040.7" r="7" fill="#228B22" fill-opacity="0.9" stroke="#a6a6a6" stroke-width="1.3"/>
<circle cx="617.3" cy="1055.5" r="7" fill="#228B22" fill-opacity="0.9" stroke="#a6a6a6" stroke-width="1.3"/>
<circle cx="392.5" cy="1016.75" r="7" fill="#9ACD32" fill-opacity="0.9" stroke="#a6a6a6" stroke-width="1.3"/>
<circle cx="380.75" cy="1065.5" r="7" fill="#9ACD32" fill-opacity="0.9" stroke="#a6a6a6" stroke-width="1.3"/>
<circle cx="594.5" cy="885.75" r="7" fill="#9ACD32" fill-opacity="0.9" stroke="#a6a6a6" stroke-width="1.3"/>
<circle cx="564.7" cy="1016.6" r="7" fill="#9ACD32" fill-opacity="0.9" stroke="#a6a6a6" stroke-width="1.3"/>
<circle cx="524.6" cy="1049.2" r="7" fill="#9ACD32" fill-opacity="0.9" stroke="#a6a6a6" stroke-width="1.3"/>
<circle cx="515.5" cy="1055.5" r="7" fill="#9ACD32" fill-opacity="0.9" stroke="#a6a6a6" stroke-width="1.3"/>
<circle cx="568" cy="907.5" r="7" fill="#FFB90F" fill-opacity="0.9" stroke="#a6a6a6" stroke-width="1.3"/>
<circle cx="563.75" cy="915.5" r="7" fill="#FFB90F" fill-opacity="0.9" stroke="#a6a6a6" stroke-width="1.3"/>
<circle cx="551.5" cy="1004.6" r="7" fill="#FFB90F" fill-opacity="0.9" stroke="#a6a6a6" stroke-width="1.3"/>
<circle cx="619" cy="996" r="7" fill="#FFB90F" fill-opacity="0.9" stroke="#a6a6a6" stroke-width="1.3"/>
<circle cx="608.7" cy="1012" r="7" fill="#FFB90F" fill-opacity="0.9" stroke="#a6a6a6" stroke-width="1.3"/>
<circle cx="616.7" cy="1028.6" r="7" fill="#FFB90F" fill-opacity="0.9" stroke="#a6a6a6" stroke-width="1.3"/>
<circle cx="573.8" cy="1029.2" r="7" fill="#FFB90F" fill-opacity="0.9" stroke="#a6a6a6" stroke-width="1.3"/>
<circle cx="589.8" cy="1031.5" r="7" fill="#9ACD32" fill-opacity="0.9" stroke="#a6a6a6" stroke-width="1.3"/>
<circle cx="561.2" cy="1039.5" r="7" fill="#9ACD32" fill-opacity="0.9" stroke="#a6a6a6" stroke-width="1.3"/>
<circle cx="565.2" cy="1049.8" r="7" fill="#228B22" fill-opacity="0.9" stroke="#a6a6a6" stroke-width="1.3"/>
<circle cx="579" cy="1049.8" r="7" fill="#9ACD32" fill-opacity="0.9" stroke="#a6a6a6" stroke-width="1.3"/>
<circle cx="549.2" cy="1056.7" r="7" fill="#FFB90F" fill-opacity="0.9" stroke="#a6a6a6" stroke-width="1.3"/>
<circle cx="558.9" cy="1060.1" r="7" fill="#228B22" fill-opacity="0.9" stroke="#a6a6a6" stroke-width="1.3"/>
<circle cx="527.5" cy="1067" r="7" fill="#9ACD32" fill-opacity="0.9" stroke="#a6a6a6" stroke-width="1.3"/>
<circle cx="574.4" cy="1068.1" r="7" fill="#FFB90F" fill-opacity="0.9" stroke="#a6a6a6" stroke-width="1.3"/>
<circle cx="564.1" cy="1076.1" r="7" fill="#9ACD32" fill-opacity="0.9" stroke="#a6a6a6" stroke-width="1.3"/>
<line x1="98.4" y1="1049.10" x2="901.5" y2="1049.10" stroke="#87CEEB" stroke-width="1.3" stroke-dasharray="8.5,8.5"/>
<line x1="98.4" y1="1090.48" x2="901.5" y2="1090.48" stroke="#1a7d1a" stroke-width="2" stroke-dasharray="8,8.5"/>
<line x1="178.10" y1="509.3" x2="178.10" y2="1177.3" stroke="#8B0000" stroke-width="2" stroke-dasharray="2,8.4"/>
<line x1="820.90" y1="509.3" x2="820.90" y2="1177.3" stroke="#8B0000" stroke-width="2" stroke-dasharray="2,8.4"/>
<line x1="385.30" y1="521.20" x2="368" y2="512" stroke="#8B0000" stroke-width="1"/>
<line x1="658.60" y1="595.60" x2="641.3" y2="612.2" stroke="#8B0000" stroke-width="1"/>
<line x1="240.10" y1="719.20" x2="223" y2="743.5" stroke="#8B0000" stroke-width="1"/>
<line x1="365.00" y1="710.50" x2="409.5" y2="875" stroke="#8B0000" stroke-width="1"/>
<line x1="447.75" y1="706.75" x2="432" y2="938" stroke="#8B0000" stroke-width="1"/>
<line x1="532.25" y1="709.75" x2="441.25" y2="1062" stroke="#8B0000" stroke-width="1"/>
<line x1="623.50" y1="706.75" x2="448.75" y2="1053.75" stroke="#8B0000" stroke-width="1"/>
<line x1="321.50" y1="747.50" x2="383.25" y2="845.5" stroke="#8B0000" stroke-width="1"/>
<line x1="409.62" y1="747.50" x2="420.75" y2="874.25" stroke="#8B0000" stroke-width="1"/>
<line x1="484.12" y1="748.25" x2="477.5" y2="849.25" stroke="#8B0000" stroke-width="1"/>
<line x1="288.00" y1="774.00" x2="354.25" y2="817" stroke="#8B0000" stroke-width="1"/>
<line x1="369.62" y1="787.00" x2="409.5" y2="900" stroke="#8B0000" stroke-width="1"/>
<line x1="453.12" y1="787.50" x2="421.25" y2="979.5" stroke="#8B0000" stroke-width="1"/>
<line x1="322.00" y1="806.50" x2="381.25" y2="858.75" stroke="#8B0000" stroke-width="1"/>
<line x1="255.00" y1="818.70" x2="307.5" y2="856.75" stroke="#8B0000" stroke-width="1"/>
<line x1="366.75" y1="837.88" x2="397" y2="925.5" stroke="#8B0000" stroke-width="1"/>
<line x1="215.00" y1="865.62" x2="334.5" y2="939" stroke="#8B0000" stroke-width="1"/>
<line x1="287.50" y1="881.62" x2="430" y2="988.75" stroke="#8B0000" stroke-width="1"/>
<line x1="319.50" y1="915.25" x2="352.5" y2="948.25" stroke="#8B0000" stroke-width="1"/>
<line x1="294.25" y1="995.25" x2="412" y2="1028.25" stroke="#8B0000" stroke-width="1"/>
<line x1="400.75" y1="980.25" x2="405.75" y2="1008.75" stroke="#8B0000" stroke-width="1"/>
<line x1="330.00" y1="1019.75" x2="345.75" y2="1048" stroke="#8B0000" stroke-width="1"/>
<line x1="562.12" y1="863.75" x2="441.25" y2="1071.25" stroke="#8B0000" stroke-width="1"/>
<line x1="595.00" y1="851.25" x2="462.5" y2="992" stroke="#8B0000" stroke-width="1"/>
<line x1="521.00" y1="898.25" x2="472.5" y2="1045" stroke="#8B0000" stroke-width="1"/>
<line x1="741.25" y1="743.12" x2="471.25" y2="1063.75" stroke="#8B0000" stroke-width="1"/>
<line x1="611.50" y1="972.38" x2="560" y2="1035" stroke="#8B0000" stroke-width="1"/>
<line x1="716.00" y1="967.50" x2="586" y2="1030" stroke="#8B0000" stroke-width="1"/>
<line x1="493.12" y1="937.50" x2="441.25" y2="1062" stroke="#8B0000" stroke-width="1"/>
<line x1="479.50" y1="1015.25" x2="472.5" y2="1045" stroke="#8B0000" stroke-width="1"/>
<line x1="577.50" y1="747.50" x2="424.5" y2="1024.25" stroke="#8B4513" stroke-width="1"/>
<line x1="674.38" y1="825.25" x2="453.75" y2="1072.5" stroke="#8B4513" stroke-width="1"/>
<line x1="461.62" y1="917.50" x2="452.5" y2="1063.75" stroke="#8B4513" stroke-width="1"/>
<line x1="478.00" y1="974.38" x2="432" y2="1033.75" stroke="#8B4513" stroke-width="1"/>
<line x1="346.00" y1="901.25" x2="421.25" y2="965.5" stroke="#A020F0" stroke-width="1"/>
<line x1="613.75" y1="908.88" x2="465.5" y2="1072.5" stroke="#A020F0" stroke-width="1"/>
<line x1="479.62" y1="975.00" x2="462.5" y2="997" stroke="#A020F0" stroke-width="1"/>
<line x1="424.38" y1="829.50" x2="426.25" y2="948" stroke="#FA8072" stroke-width="1"/>
<line x1="529.12" y1="787.50" x2="437.5" y2="1003" stroke="#FA8072" stroke-width="1"/>
<line x1="681.00" y1="781.62" x2="463.75" y2="1042.5" stroke="#FA8072" stroke-width="1"/>
<line x1="683.50" y1="850.00" x2="677" y2="879.5" stroke="#FA8072" stroke-width="1"/>
<line x1="531.62" y1="957.50" x2="440" y2="1066" stroke="#FA8072" stroke-width="1"/>
<line x1="803.75" y1="1118.12" x2="615" y2="1073.75" stroke="#FA8072" stroke-width="1"/>
<line x1="501.62" y1="828.00" x2="419.75" y2="1042" stroke="#228B22" stroke-width="1"/>
<line x1="295.00" y1="955.38" x2="413.5" y2="1015.5" stroke="#228B22" stroke-width="1"/>
<line x1="803.75" y1="970.38" x2="587" y2="1040.7" stroke="#228B22" stroke-width="1"/>
<line x1="842.00" y1="1008.38" x2="565.2" y2="1049.8" stroke="#228B22" stroke-width="1"/>
<line x1="844.50" y1="1048.12" x2="617.3" y2="1055.5" stroke="#228B22" stroke-width="1"/>
<line x1="697.50" y1="1080.88" x2="558.9" y2="1060.1" stroke="#228B22" stroke-width="1"/>
<line x1="631.62" y1="785.50" x2="568" y2="907.5" stroke="#FFB90F" stroke-width="1"/>
<line x1="583.50" y1="824.50" x2="563.75" y2="915.5" stroke="#FFB90F" stroke-width="1"/>
<line x1="815.50" y1="775.62" x2="573.8" y2="1029.2" stroke="#FFB90F" stroke-width="1"/>
<line x1="823.75" y1="851.62" x2="551.5" y2="1004.6" stroke="#FFB90F" stroke-width="1"/>
<line x1="776.25" y1="891.62" x2="549.2" y2="1056.7" stroke="#FFB90F" stroke-width="1"/>
<line x1="664.75" y1="929.50" x2="619" y2="996" stroke="#FFB90F" stroke-width="1"/>
<line x1="667.25" y1="1003.38" x2="608.7" y2="1012" stroke="#FFB90F" stroke-width="1"/>
<line x1="752.50" y1="1007.50" x2="616.7" y2="1028.6" stroke="#FFB90F" stroke-width="1"/>
<line x1="760.00" y1="1080.25" x2="574.4" y2="1068.1" stroke="#FFB90F" stroke-width="1"/>
<line x1="710.75" y1="1119.38" x2="580" y2="1072" stroke="#FFB90F" stroke-width="1"/>
<line x1="690.50" y1="1159.38" x2="566" y2="1077" stroke="#FFB90F" stroke-width="1"/>
<line x1="662.50" y1="732.12" x2="594.5" y2="885.75" stroke="#9ACD32" stroke-width="1"/>
<line x1="767.00" y1="815.00" x2="589.8" y2="1031.5" stroke="#9ACD32" stroke-width="1"/>
<line x1="750.00" y1="850.00" x2="564.7" y2="1016.6" stroke="#9ACD32" stroke-width="1"/>
<line x1="712.00" y1="889.62" x2="561.2" y2="1039.5" stroke="#9ACD32" stroke-width="1"/>
<line x1="751.25" y1="930.88" x2="524.6" y2="1049.2" stroke="#9ACD32" stroke-width="1"/>
<line x1="847.00" y1="931.88" x2="579" y2="1049.8" stroke="#9ACD32" stroke-width="1"/>
<line x1="231.75" y1="944.62" x2="392.5" y2="1016.75" stroke="#9ACD32" stroke-width="1"/>
<line x1="658.50" y1="1051.50" x2="579" y2="1049.8" stroke="#9ACD32" stroke-width="1"/>
<line x1="728.75" y1="1041.38" x2="515.5" y2="1055.5" stroke="#9ACD32" stroke-width="1"/>
<line x1="369.50" y1="1080.38" x2="380.75" y2="1065.5" stroke="#9ACD32" stroke-width="1"/>
<line x1="637.50" y1="1119.75" x2="564.1" y2="1076.1" stroke="#9ACD32" stroke-width="1"/>
<line x1="605.25" y1="1159.12" x2="527.5" y2="1067" stroke="#9ACD32" stroke-width="1"/>
<rect x="385.3" y="508.4" width="72.10" height="25.60" rx="2" fill="#8B0000" fill-opacity="0.75" stroke="#2a2a2a" stroke-width="0.8"/>
<text x="421.35" y="518.10" font-size="8.1" text-anchor="middle" fill="#222">cMyc_T58S62</text>
<text x="421.35" y="528.70" font-size="8.1" text-anchor="middle" fill="#222">PCa/DiseaseFree</text>
<rect x="638.0" y="570.1" width="71.80" height="25.70" rx="2" fill="#8B0000" fill-opacity="0.75" stroke="#2a2a2a" stroke-width="0.8"/>
<text x="673.90" y="579.80" font-size="8.1" text-anchor="middle" fill="#222">BCat_T41S45</text>
<text x="673.90" y="590.40" font-size="8.1" text-anchor="middle" fill="#222">PCa/DiseaseFree</text>
<rect x="215.0" y="693.8" width="58.50" height="25.40" rx="2" fill="#8B0000" fill-opacity="0.75" stroke="#2a2a2a" stroke-width="0.8"/>
<text x="244.25" y="703.50" font-size="8.1" text-anchor="middle" fill="#222">cFoda_D1185</text>
<text x="244.25" y="714.10" font-size="8.1" text-anchor="middle" fill="#222">PCa/HD</text>
<rect x="328.75" y="684.5" width="72.50" height="26.00" rx="2" fill="#8B0000" fill-opacity="0.75" stroke="#2a2a2a" stroke-width="0.8"/>
<text x="365.00" y="694.20" font-size="8.1" text-anchor="middle" fill="#222">IGF1R_Y1135</text>
<text x="365.00" y="704.80" font-size="8.1" text-anchor="middle" fill="#222">PCa/Hypertrophic</text>
<rect x="411.75" y="680.75" width="72.00" height="26.00" rx="2" fill="#8B0000" fill-opacity="0.75" stroke="#2a2a2a" stroke-width="0.8"/>
<text x="447.75" y="690.45" font-size="8.1" text-anchor="middle" fill="#222">bCAT_S33_37</text>
<text x="447.75" y="701.05" font-size="8.1" text-anchor="middle" fill="#222">PCa/Hypertrophic</text>
<rect x="496.25" y="684.25" width="72.00" height="25.50" rx="2" fill="#8B0000" fill-opacity="0.75" stroke="#2a2a2a" stroke-width="0.8"/>
<text x="532.25" y="693.95" font-size="8.1" text-anchor="middle" fill="#222">FRS2a_Y436</text>
<text x="532.25" y="704.55" font-size="8.1" text-anchor="middle" fill="#222">PCa/Hypertrophic</text>
<rect x="587.5" y="681.25" width="72.00" height="25.50" rx="2" fill="#8B0000" fill-opacity="0.75" stroke="#2a2a2a" stroke-width="0.8"/>
<text x="623.50" y="690.95" font-size="8.1" text-anchor="middle" fill="#222">bCAT_S33_37</text>
<text x="623.50" y="701.55" font-size="8.1" text-anchor="middle" fill="#222">PCa/DiseaseFree</text>
<rect x="285.5" y="721.75" width="72.00" height="25.75" rx="2" fill="#8B0000" fill-opacity="0.75" stroke="#2a2a2a" stroke-width="0.8"/>
<text x="321.50" y="731.45" font-size="8.1" text-anchor="middle" fill="#222">cFoda_D1185</text>
<text x="321.50" y="742.05" font-size="8.1" text-anchor="middle" fill="#222">PCa/DiseaseFree</text>
<rect x="373.75" y="721.75" width="71.75" height="25.75" rx="2" fill="#8B0000" fill-opacity="0.75" stroke="#2a2a2a" stroke-width="0.8"/>
<text x="409.62" y="731.45" font-size="8.1" text-anchor="middle" fill="#222">cMyc_T58S62</text>
<text x="409.62" y="742.05" font-size="8.1" text-anchor="middle" fill="#222">PCa/Hypertrophic</text>
<rect x="448.25" y="722.5" width="71.75" height="25.75" rx="2" fill="#8B0000" fill-opacity="0.75" stroke="#2a2a2a" stroke-width="0.8"/>
<text x="484.12" y="732.20" font-size="8.1" text-anchor="middle" fill="#222">RanGap_S428</text>
<text x="484.12" y="742.80" font-size="8.1" text-anchor="middle" fill="#222">PCa/DiseaseFree</text>
<rect x="215.75" y="760.0" width="72.25" height="25.75" rx="2" fill="#8B0000" fill-opacity="0.75" stroke="#2a2a2a" stroke-width="0.8"/>
<text x="251.88" y="769.70" font-size="8.1" text-anchor="middle" fill="#222">EGFR_Y1045</text>
<text x="251.88" y="780.30" font-size="8.1" text-anchor="middle" fill="#222">PCa/Hypertrophic</text>
<rect x="333.75" y="761.25" width="71.75" height="25.75" rx="2" fill="#8B0000" fill-opacity="0.75" stroke="#2a2a2a" stroke-width="0.8"/>
<text x="369.62" y="770.95" font-size="8.1" text-anchor="middle" fill="#222">IGF1R_Y1135</text>
<text x="369.62" y="781.55" font-size="8.1" text-anchor="middle" fill="#222">PCa/DiseaseFree</text>
<rect x="424.5" y="761.75" width="57.25" height="25.75" rx="2" fill="#8B0000" fill-opacity="0.75" stroke="#2a2a2a" stroke-width="0.8"/>
<text x="453.12" y="771.45" font-size="8.1" text-anchor="middle" fill="#222">FRS2a_Y436</text>
<text x="453.12" y="782.05" font-size="8.1" text-anchor="middle" fill="#222">PCa/HD</text>
<rect x="262.5" y="793.75" width="59.50" height="25.50" rx="2" fill="#8B0000" fill-opacity="0.75" stroke="#2a2a2a" stroke-width="0.8"/>
<text x="292.25" y="803.45" font-size="8.1" text-anchor="middle" fill="#222">cMyc_T58S62</text>
<text x="292.25" y="814.05" font-size="8.1" text-anchor="middle" fill="#222">PCa/HD</text>
<rect x="183.25" y="804.25" width="71.75" height="26.00" rx="2" fill="#8B0000" fill-opacity="0.75" stroke="#2a2a2a" stroke-width="0.8"/>
<text x="219.12" y="813.95" font-size="8.1" text-anchor="middle" fill="#222">p38_T180</text>
<text x="219.12" y="824.55" font-size="8.1" text-anchor="middle" fill="#222">PCa/DiseaseFree</text>
<rect x="295.0" y="825.0" width="71.75" height="25.75" rx="2" fill="#8B0000" fill-opacity="0.75" stroke="#2a2a2a" stroke-width="0.8"/>
<text x="330.88" y="834.70" font-size="8.1" text-anchor="middle" fill="#222">EGFR_Y1045</text>
<text x="330.88" y="845.30" font-size="8.1" text-anchor="middle" fill="#222">PCa/DiseaseFree</text>
<rect x="143.0" y="852.5" width="72.00" height="26.25" rx="2" fill="#8B0000" fill-opacity="0.75" stroke="#2a2a2a" stroke-width="0.8"/>
<text x="179.00" y="862.20" font-size="8.1" text-anchor="middle" fill="#222">p38_T180</text>
<text x="179.00" y="872.80" font-size="8.1" text-anchor="middle" fill="#222">PCa/Hypertrophic</text>
<rect x="215.75" y="868.75" width="71.75" height="25.75" rx="2" fill="#8B0000" fill-opacity="0.75" stroke="#2a2a2a" stroke-width="0.8"/>
<text x="251.62" y="878.45" font-size="8.1" text-anchor="middle" fill="#222">RanGap_S428</text>
<text x="251.62" y="889.05" font-size="8.1" text-anchor="middle" fill="#222">PCa/Hypertrophic</text>
<rect x="260.75" y="902.5" width="58.75" height="25.50" rx="2" fill="#8B0000" fill-opacity="0.75" stroke="#2a2a2a" stroke-width="0.8"/>
<text x="290.12" y="912.20" font-size="8.1" text-anchor="middle" fill="#222">EGFR_Y1045</text>
<text x="290.12" y="922.80" font-size="8.1" text-anchor="middle" fill="#222">PCa/HD</text>
<rect x="222.5" y="982.5" width="71.75" height="25.50" rx="2" fill="#8B0000" fill-opacity="0.75" stroke="#2a2a2a" stroke-width="0.8"/>
<text x="258.38" y="992.20" font-size="8.1" text-anchor="middle" fill="#222">cFoda_D1185</text>
<text x="258.38" y="1002.80" font-size="8.1" text-anchor="middle" fill="#222">PCa/Hypertrophic</text>
<rect x="341.25" y="967.5" width="59.50" height="25.50" rx="2" fill="#8B0000" fill-opacity="0.75" stroke="#2a2a2a" stroke-width="0.8"/>
<text x="371.00" y="977.20" font-size="8.1" text-anchor="middle" fill="#222">IGF1R_Y1135</text>
<text x="371.00" y="987.80" font-size="8.1" text-anchor="middle" fill="#222">PCa/HD</text>
<rect x="285.0" y="1007.0" width="45.00" height="25.50" rx="2" fill="#8B0000" fill-opacity="0.75" stroke="#2a2a2a" stroke-width="0.8"/>
<text x="307.50" y="1016.70" font-size="8.1" text-anchor="middle" fill="#222">p38_T180</text>
<text x="307.50" y="1027.30" font-size="8.1" text-anchor="middle" fill="#222">PCa/HD</text>
<rect x="526.75" y="838.75" width="70.75" height="25.00" rx="2" fill="#8B0000" fill-opacity="0.75" stroke="#2a2a2a" stroke-width="0.8"/>
<text x="562.12" y="848.45" font-size="8.1" text-anchor="middle" fill="#222">FRS2a_Y436</text>
<text x="562.12" y="859.05" font-size="8.1" text-anchor="middle" fill="#222">PCa/DiseaseFree</text>
<rect x="595.0" y="838.75" width="71.75" height="25.00" rx="2" fill="#8B0000" fill-opacity="0.75" stroke="#2a2a2a" stroke-width="0.8"/>
<text x="630.88" y="848.45" font-size="8.1" text-anchor="middle" fill="#222">PDGFRb_Y716</text>
<text x="630.88" y="859.05" font-size="8.1" text-anchor="middle" fill="#222">PCa/DiseaseFree</text>
<rect x="490.75" y="873.0" width="60.50" height="25.25" rx="2" fill="#8B0000" fill-opacity="0.75" stroke="#2a2a2a" stroke-width="0.8"/>
<text x="521.00" y="882.70" font-size="8.1" text-anchor="middle" fill="#222">bCAT_S33_37</text>
<text x="521.00" y="893.30" font-size="8.1" text-anchor="middle" fill="#222">PCa/HD</text>
<rect x="741.25" y="730.5" width="64.25" height="25.25" rx="2" fill="#8B0000" fill-opacity="0.75" stroke="#2a2a2a" stroke-width="0.8"/>
<text x="773.38" y="740.20" font-size="8.1" text-anchor="middle" fill="#222">PDGFRb_Y716</text>
<text x="773.38" y="750.80" font-size="8.1" text-anchor="middle" fill="#222">PCa/HD</text>
<rect x="611.5" y="959.5" width="71.75" height="25.75" rx="2" fill="#8B0000" fill-opacity="0.75" stroke="#2a2a2a" stroke-width="0.8"/>
<text x="647.38" y="969.20" font-size="8.1" text-anchor="middle" fill="#222">BCat_T41S45</text>
<text x="647.38" y="979.80" font-size="8.1" text-anchor="middle" fill="#222">PCa/Hypertrophic</text>
<rect x="716.0" y="954.5" width="59.00" height="26.00" rx="2" fill="#8B0000" fill-opacity="0.75" stroke="#2a2a2a" stroke-width="0.8"/>
<text x="745.50" y="964.20" font-size="8.1" text-anchor="middle" fill="#222">BCat_T41S45</text>
<text x="745.50" y="974.80" font-size="8.1" text-anchor="middle" fill="#222">PCa/HD</text>
<rect x="479.5" y="1002.5" width="61.25" height="25.50" rx="2" fill="#8B0000" fill-opacity="0.75" stroke="#2a2a2a" stroke-width="0.8"/>
<text x="510.12" y="1012.20" font-size="8.1" text-anchor="middle" fill="#222">RanGap_S428</text>
<text x="510.12" y="1022.80" font-size="8.1" text-anchor="middle" fill="#222">PCa/HD</text>
<rect x="547.5" y="721.25" width="60.00" height="26.25" rx="2" fill="#8B4513" fill-opacity="0.75" stroke="#2a2a2a" stroke-width="0.8"/>
<text x="577.50" y="730.95" font-size="8.1" text-anchor="middle" fill="#222">IGFR1pY1131</text>
<text x="577.50" y="741.55" font-size="8.1" text-anchor="middle" fill="#222">PCa/HD</text>
<rect x="653.75" y="799.75" width="41.25" height="25.50" rx="2" fill="#8B4513" fill-opacity="0.75" stroke="#2a2a2a" stroke-width="0.8"/>
<text x="674.38" y="809.45" font-size="8.1" text-anchor="middle" fill="#222">Wnt5a_b</text>
<text x="674.38" y="820.05" font-size="8.1" text-anchor="middle" fill="#222">PCa/HD</text>
<rect x="310.0" y="875.75" width="72.00" height="25.50" rx="2" fill="#A020F0" fill-opacity="0.75" stroke="#2a2a2a" stroke-width="0.8"/>
<text x="346.00" y="885.45" font-size="8.1" text-anchor="middle" fill="#222">EGFR_Y1148</text>
<text x="346.00" y="896.05" font-size="8.1" text-anchor="middle" fill="#222">PCa/Hypertrophic</text>
<rect x="388.75" y="803.75" width="71.25" height="25.75" rx="2" fill="#FA8072" fill-opacity="0.75" stroke="#2a2a2a" stroke-width="0.8"/>
<text x="424.38" y="813.45" font-size="8.1" text-anchor="middle" fill="#222">SHC_Y317</text>
<text x="424.38" y="824.05" font-size="8.1" text-anchor="middle" fill="#222">PCa/Hypertrophic</text>
<rect x="493.25" y="761.75" width="71.75" height="25.75" rx="2" fill="#FA8072" fill-opacity="0.75" stroke="#2a2a2a" stroke-width="0.8"/>
<text x="529.12" y="771.45" font-size="8.1" text-anchor="middle" fill="#222">SHC_Y317</text>
<text x="529.12" y="782.05" font-size="8.1" text-anchor="middle" fill="#222">PCa/DiseaseFree</text>
<rect x="681.0" y="768.75" width="71.50" height="25.75" rx="2" fill="#FA8072" fill-opacity="0.75" stroke="#2a2a2a" stroke-width="0.8"/>
<text x="716.75" y="778.45" font-size="8.1" text-anchor="middle" fill="#222">AndRec_S650</text>
<text x="716.75" y="789.05" font-size="8.1" text-anchor="middle" fill="#222">PCa/DiseaseFree</text>
<rect x="683.5" y="837.0" width="71.00" height="26.00" rx="2" fill="#FA8072" fill-opacity="0.75" stroke="#2a2a2a" stroke-width="0.8"/>
<text x="719.00" y="846.70" font-size="8.1" text-anchor="middle" fill="#222">TGFb</text>
<text x="719.00" y="857.30" font-size="8.1" text-anchor="middle" fill="#222">PCa/DiseaseFree</text>
<rect x="803.75" y="1105.0" width="72.00" height="26.25" rx="2" fill="#FA8072" fill-opacity="0.75" stroke="#2a2a2a" stroke-width="0.8"/>
<text x="839.75" y="1114.70" font-size="8.1" text-anchor="middle" fill="#222">TGFb</text>
<text x="839.75" y="1125.30" font-size="8.1" text-anchor="middle" fill="#222">PCa/Hypertrophic</text>
<rect x="469.5" y="802.5" width="64.25" height="25.50" rx="2" fill="#228B22" fill-opacity="0.75" stroke="#2a2a2a" stroke-width="0.8"/>
<text x="501.62" y="812.20" font-size="8.1" text-anchor="middle" fill="#222">PDGFRa_Y754</text>
<text x="501.62" y="822.80" font-size="8.1" text-anchor="middle" fill="#222">PCa/HD</text>
<rect x="240.5" y="942.5" width="54.50" height="25.75" rx="2" fill="#228B22" fill-opacity="0.75" stroke="#2a2a2a" stroke-width="0.8"/>
<text x="267.75" y="952.20" font-size="8.1" text-anchor="middle" fill="#222">IRS1_pS612</text>
<text x="267.75" y="962.80" font-size="8.1" text-anchor="middle" fill="#222">PCa/HD</text>
<rect x="803.75" y="957.5" width="54.25" height="25.75" rx="2" fill="#228B22" fill-opacity="0.75" stroke="#2a2a2a" stroke-width="0.8"/>
<text x="830.88" y="967.20" font-size="8.1" text-anchor="middle" fill="#222">p70S6_T412</text>
<text x="830.88" y="977.80" font-size="8.1" text-anchor="middle" fill="#222">PCa/HD</text>
<rect x="842.0" y="995.5" width="51.75" height="25.75" rx="2" fill="#228B22" fill-opacity="0.75" stroke="#2a2a2a" stroke-width="0.8"/>
<text x="867.88" y="1005.20" font-size="8.1" text-anchor="middle" fill="#222">4EBP1_T70</text>
<text x="867.88" y="1015.80" font-size="8.1" text-anchor="middle" fill="#222">PCa/HD</text>
<rect x="844.5" y="1035.0" width="38.75" height="26.25" rx="2" fill="#228B22" fill-opacity="0.75" stroke="#2a2a2a" stroke-width="0.8"/>
<text x="863.88" y="1044.70" font-size="8.1" text-anchor="middle" fill="#222">RANKL</text>
<text x="863.88" y="1055.30" font-size="8.1" text-anchor="middle" fill="#222">PCa/HD</text>
<rect x="697.5" y="1068.0" width="49.25" height="25.75" rx="2" fill="#228B22" fill-opacity="0.75" stroke="#2a2a2a" stroke-width="0.8"/>
<text x="722.12" y="1077.70" font-size="8.1" text-anchor="middle" fill="#222">MSK_S360</text>
<text x="722.12" y="1088.30" font-size="8.1" text-anchor="middle" fill="#222">PCa/HD</text>
<rect x="595.75" y="760.0" width="71.75" height="25.50" rx="2" fill="#FFB90F" fill-opacity="0.75" stroke="#2a2a2a" stroke-width="0.8"/>
<text x="631.62" y="769.70" font-size="8.1" text-anchor="middle" fill="#222">Smad2_S465</text>
<text x="631.62" y="780.30" font-size="8.1" text-anchor="middle" fill="#222">PCa/DiseaseFree</text>
<rect x="547.5" y="798.75" width="72.00" height="25.75" rx="2" fill="#FFB90F" fill-opacity="0.75" stroke="#2a2a2a" stroke-width="0.8"/>
<text x="583.50" y="808.45" font-size="8.1" text-anchor="middle" fill="#222">MDM2_pS166</text>
<text x="583.50" y="819.05" font-size="8.1" text-anchor="middle" fill="#222">PCa/DiseaseFree</text>
<rect x="815.5" y="762.5" width="72.00" height="26.25" rx="2" fill="#FFB90F" fill-opacity="0.75" stroke="#2a2a2a" stroke-width="0.8"/>
<text x="851.50" y="772.20" font-size="8.1" text-anchor="middle" fill="#222">Stat5_Y694</text>
<text x="851.50" y="782.80" font-size="8.1" text-anchor="middle" fill="#222">PCa/DiseaseFree</text>
<rect x="823.75" y="838.75" width="71.75" height="25.75" rx="2" fill="#FFB90F" fill-opacity="0.75" stroke="#2a2a2a" stroke-width="0.8"/>
<text x="859.62" y="848.45" font-size="8.1" text-anchor="middle" fill="#222">ErbB2_Y1248</text>
<text x="859.62" y="859.05" font-size="8.1" text-anchor="middle" fill="#222">PCa/DiseaseFree</text>
<rect x="776.25" y="878.75" width="71.75" height="25.75" rx="2" fill="#FFB90F" fill-opacity="0.75" stroke="#2a2a2a" stroke-width="0.8"/>
<text x="812.12" y="888.45" font-size="8.1" text-anchor="middle" fill="#222">Met_tot</text>
<text x="812.12" y="899.05" font-size="8.1" text-anchor="middle" fill="#222">PCa/DiseaseFree</text>
<rect x="667.25" y="990.5" width="71.50" height="25.75" rx="2" fill="#FFB90F" fill-opacity="0.75" stroke="#2a2a2a" stroke-width="0.8"/>
<text x="703.00" y="1000.20" font-size="8.1" text-anchor="middle" fill="#222">TSC2_Y1571</text>
<text x="703.00" y="1010.80" font-size="8.1" text-anchor="middle" fill="#222">PCa/DiseaseFree</text>
<rect x="752.5" y="994.5" width="72.00" height="26.00" rx="2" fill="#FFB90F" fill-opacity="0.75" stroke="#2a2a2a" stroke-width="0.8"/>
<text x="788.50" y="1004.20" font-size="8.1" text-anchor="middle" fill="#222">ErbB3_Y1289</text>
<text x="788.50" y="1014.80" font-size="8.1" text-anchor="middle" fill="#222">PCa/DiseaseFree</text>
<rect x="760.0" y="1067.5" width="72.00" height="25.50" rx="2" fill="#FFB90F" fill-opacity="0.75" stroke="#2a2a2a" stroke-width="0.8"/>
<text x="796.00" y="1077.20" font-size="8.1" text-anchor="middle" fill="#222">cABL_T735</text>
<text x="796.00" y="1087.80" font-size="8.1" text-anchor="middle" fill="#222">PCa/DiseaseFree</text>
<rect x="710.75" y="1106.25" width="72.25" height="26.25" rx="2" fill="#FFB90F" fill-opacity="0.75" stroke="#2a2a2a" stroke-width="0.8"/>
<text x="746.88" y="1115.95" font-size="8.1" text-anchor="middle" fill="#222">SGK3</text>
<text x="746.88" y="1126.55" font-size="8.1" text-anchor="middle" fill="#222">PCa/DiseaseFree</text>
<rect x="690.5" y="1146.25" width="72.00" height="26.25" rx="2" fill="#FFB90F" fill-opacity="0.75" stroke="#2a2a2a" stroke-width="0.8"/>
<text x="726.50" y="1155.95" font-size="8.1" text-anchor="middle" fill="#222">cABL_Y245</text>
<text x="726.50" y="1166.55" font-size="8.1" text-anchor="middle" fill="#222">PCa/DiseaseFree</text>
<rect x="662.5" y="719.25" width="72.00" height="25.75" rx="2" fill="#9ACD32" fill-opacity="0.75" stroke="#2a2a2a" stroke-width="0.8"/>
<text x="698.50" y="728.95" font-size="8.1" text-anchor="middle" fill="#222">cMYC</text>
<text x="698.50" y="739.55" font-size="8.1" text-anchor="middle" fill="#222">PCa/DiseaseFree</text>
<rect x="767.0" y="802.0" width="71.75" height="26.00" rx="2" fill="#9ACD32" fill-opacity="0.75" stroke="#2a2a2a" stroke-width="0.8"/>
<text x="802.88" y="811.70" font-size="8.1" text-anchor="middle" fill="#222">4EBP1_T37</text>
<text x="802.88" y="822.30" font-size="8.1" text-anchor="middle" fill="#222">PCa/DiseaseFree</text>
<rect x="750.0" y="837.0" width="71.75" height="26.00" rx="2" fill="#9ACD32" fill-opacity="0.75" stroke="#2a2a2a" stroke-width="0.8"/>
<text x="785.88" y="846.70" font-size="8.1" text-anchor="middle" fill="#222">SRC_Y416</text>
<text x="785.88" y="857.30" font-size="8.1" text-anchor="middle" fill="#222">PCa/DiseaseFree</text>
<rect x="712.0" y="876.75" width="52.25" height="25.75" rx="2" fill="#9ACD32" fill-opacity="0.75" stroke="#2a2a2a" stroke-width="0.8"/>
<text x="738.12" y="886.45" font-size="8.1" text-anchor="middle" fill="#222">4EBP1_T37</text>
<text x="738.12" y="897.05" font-size="8.1" text-anchor="middle" fill="#222">PCa/HD</text>
<rect x="751.25" y="918.0" width="72.00" height="25.75" rx="2" fill="#9ACD32" fill-opacity="0.75" stroke="#2a2a2a" stroke-width="0.8"/>
<text x="787.25" y="927.70" font-size="8.1" text-anchor="middle" fill="#222">SEK1_S80</text>
<text x="787.25" y="938.30" font-size="8.1" text-anchor="middle" fill="#222">PCa/DiseaseFree</text>
<rect x="847.0" y="919.25" width="48.50" height="25.25" rx="2" fill="#9ACD32" fill-opacity="0.75" stroke="#2a2a2a" stroke-width="0.8"/>
<text x="871.25" y="928.95" font-size="8.1" text-anchor="middle" fill="#222">SEK1_S80</text>
<text x="871.25" y="939.55" font-size="8.1" text-anchor="middle" fill="#222">PCa/HD</text>
<rect x="184.5" y="931.75" width="47.25" height="25.75" rx="2" fill="#9ACD32" fill-opacity="0.75" stroke="#2a2a2a" stroke-width="0.8"/>
<text x="208.12" y="941.45" font-size="8.1" text-anchor="middle" fill="#222">AKT_T308</text>
<text x="208.12" y="952.05" font-size="8.1" text-anchor="middle" fill="#222">PCa/HD</text>
<rect x="658.5" y="1038.5" width="57.75" height="26.00" rx="2" fill="#9ACD32" fill-opacity="0.75" stroke="#2a2a2a" stroke-width="0.8"/>
<text x="687.38" y="1048.20" font-size="8.1" text-anchor="middle" fill="#222">AndReC_S81</text>
<text x="687.38" y="1058.80" font-size="8.1" text-anchor="middle" fill="#222">PCa/HD</text>
<rect x="728.75" y="1028.25" width="38.25" height="26.25" rx="2" fill="#9ACD32" fill-opacity="0.75" stroke="#2a2a2a" stroke-width="0.8"/>
<text x="747.88" y="1037.95" font-size="8.1" text-anchor="middle" fill="#222">cMYC</text>
<text x="747.88" y="1048.55" font-size="8.1" text-anchor="middle" fill="#222">PCa/HD</text>
<rect x="298.0" y="1067.5" width="71.50" height="25.75" rx="2" fill="#9ACD32" fill-opacity="0.75" stroke="#2a2a2a" stroke-width="0.8"/>
<text x="333.75" y="1077.20" font-size="8.1" text-anchor="middle" fill="#222">AKT_T308</text>
<text x="333.75" y="1087.80" font-size="8.1" text-anchor="middle" fill="#222">PCa/DiseaseFree</text>
<rect x="637.5" y="1107.0" width="49.25" height="25.50" rx="2" fill="#9ACD32" fill-opacity="0.75" stroke="#2a2a2a" stroke-width="0.8"/>
<text x="662.12" y="1116.70" font-size="8.1" text-anchor="middle" fill="#222">SRC_Y416</text>
<text x="662.12" y="1127.30" font-size="8.1" text-anchor="middle" fill="#222">PCa/HD</text>
<rect x="605.25" y="1146.25" width="72.00" height="25.75" rx="2" fill="#9ACD32" fill-opacity="0.75" stroke="#2a2a2a" stroke-width="0.8"/>
<text x="641.25" y="1155.95" font-size="8.1" text-anchor="middle" fill="#222">AndReC_S81</text>
<text x="641.25" y="1166.55" font-size="8.1" text-anchor="middle" fill="#222">PCa/DiseaseFree</text>
<rect x="425.75" y="892.0" width="71.75" height="25.50" rx="2" fill="#8B4513" fill-opacity="0.75" stroke="#2a2a2a" stroke-width="0.8"/>
<text x="461.62" y="901.70" font-size="8.1" text-anchor="middle" fill="#222">IGFR1pY1131</text>
<text x="461.62" y="912.30" font-size="8.1" text-anchor="middle" fill="#222">PCa/Hypertrophic</text>
<rect x="457.5" y="912.25" width="71.25" height="25.25" rx="2" fill="#8B0000" fill-opacity="0.75" stroke="#2a2a2a" stroke-width="0.8"/>
<text x="493.12" y="921.95" font-size="8.1" text-anchor="middle" fill="#222">PDGFRb_Y716</text>
<text x="493.12" y="932.55" font-size="8.1" text-anchor="middle" fill="#222">PCa/Hypertrophic</text>
<rect x="495.75" y="932.0" width="71.75" height="25.50" rx="2" fill="#FA8072" fill-opacity="0.75" stroke="#2a2a2a" stroke-width="0.8"/>
<text x="531.62" y="941.70" font-size="8.1" text-anchor="middle" fill="#222">AndRec_S650</text>
<text x="531.62" y="952.30" font-size="8.1" text-anchor="middle" fill="#222">PCa/Hypertrophic</text>
<rect x="443.75" y="949.5" width="71.75" height="25.50" rx="2" fill="#A020F0" fill-opacity="0.75" stroke="#2a2a2a" stroke-width="0.8"/>
<text x="479.62" y="959.20" font-size="8.1" text-anchor="middle" fill="#222">LKB1_pS334</text>
<text x="479.62" y="969.80" font-size="8.1" text-anchor="middle" fill="#222">PCa/Hypertrophic</text>
<rect x="478.0" y="961.75" width="71.50" height="25.25" rx="2" fill="#8B4513" fill-opacity="0.75" stroke="#2a2a2a" stroke-width="0.8"/>
<text x="513.75" y="971.45" font-size="8.1" text-anchor="middle" fill="#222">Wnt5a_b</text>
<text x="513.75" y="982.05" font-size="8.1" text-anchor="middle" fill="#222">PCa/Hypertrophic</text>
<rect x="664.75" y="916.75" width="71.50" height="25.50" rx="2" fill="#FFB90F" fill-opacity="0.75" stroke="#2a2a2a" stroke-width="0.8"/>
<text x="700.50" y="926.45" font-size="8.1" text-anchor="middle" fill="#222">PSA</text>
<text x="700.50" y="937.05" font-size="8.1" text-anchor="middle" fill="#222">PCa/DiseaseFree</text>
<rect x="613.75" y="896.25" width="72.00" height="25.25" rx="2" fill="#A020F0" fill-opacity="0.75" stroke="#2a2a2a" stroke-width="0.8"/>
<text x="649.75" y="905.95" font-size="8.1" text-anchor="middle" fill="#222">Stat3_S727</text>
<text x="649.75" y="916.55" font-size="8.1" text-anchor="middle" fill="#222">PCa/Hypertrophic</text>
</g>
<rect x="98.4" y="502.3" width="803.10" height="675.00" fill="none" stroke="#333" stroke-width="1.1"/>
<line x1="98.4" y1="502.3" x2="98.4" y2="1177.3" stroke="#222" stroke-width="2.1"/>
<line x1="97.4" y1="1177.3" x2="901.5" y2="1177.3" stroke="#222" stroke-width="2.1"/>
<line x1="178.10" y1="1177.3" x2="178.10" y2="1181.8" stroke="#222" stroke-width="2.3"/>
<text x="178.10" y="1199.00" font-size="18.6" text-anchor="middle" fill="#4d4d4d" >−1.00</text>
<line x1="258.45" y1="1177.3" x2="258.45" y2="1181.8" stroke="#222" stroke-width="2.3"/>
<text x="258.45" y="1199.00" font-size="18.6" text-anchor="middle" fill="#4d4d4d" >−0.75</text>
<line x1="338.80" y1="1177.3" x2="338.80" y2="1181.8" stroke="#222" stroke-width="2.3"/>
<text x="338.80" y="1199.00" font-size="18.6" text-anchor="middle" fill="#4d4d4d" >−0.50</text>
<line x1="419.15" y1="1177.3" x2="419.15" y2="1181.8" stroke="#222" stroke-width="2.3"/>
<text x="419.15" y="1199.00" font-size="18.6" text-anchor="middle" fill="#4d4d4d" >−0.25</text>
<line x1="499.50" y1="1177.3" x2="499.50" y2="1181.8" stroke="#222" stroke-width="2.3"/>
<text x="499.50" y="1199.00" font-size="18.6" text-anchor="middle" fill="#4d4d4d" >0.00</text>
<line x1="579.85" y1="1177.3" x2="579.85" y2="1181.8" stroke="#222" stroke-width="2.3"/>
<text x="579.85" y="1199.00" font-size="18.6" text-anchor="middle" fill="#4d4d4d" >0.25</text>
<line x1="660.20" y1="1177.3" x2="660.20" y2="1181.8" stroke="#222" stroke-width="2.3"/>
<text x="660.20" y="1199.00" font-size="18.6" text-anchor="middle" fill="#4d4d4d" >0.50</text>
<line x1="740.55" y1="1177.3" x2="740.55" y2="1181.8" stroke="#222" stroke-width="2.3"/>
<text x="740.55" y="1199.00" font-size="18.6" text-anchor="middle" fill="#4d4d4d" >0.75</text>
<line x1="820.90" y1="1177.3" x2="820.90" y2="1181.8" stroke="#222" stroke-width="2.3"/>
<text x="820.90" y="1199.00" font-size="18.6" text-anchor="middle" fill="#4d4d4d" >1.00</text>
<line x1="94.10000000000001" y1="1167.50" x2="98.4" y2="1167.50" stroke="#222" stroke-width="2.3"/>
<text x="91.90" y="1174.00" font-size="18" text-anchor="end" fill="#4d4d4d" >0</text>
<line x1="94.10000000000001" y1="1108.30" x2="98.4" y2="1108.30" stroke="#222" stroke-width="2.3"/>
<text x="91.90" y="1114.80" font-size="18" text-anchor="end" fill="#4d4d4d" >1</text>
<line x1="94.10000000000001" y1="1049.10" x2="98.4" y2="1049.10" stroke="#222" stroke-width="2.3"/>
<text x="91.90" y="1055.60" font-size="18" text-anchor="end" fill="#4d4d4d" >2</text>
<line x1="94.10000000000001" y1="989.90" x2="98.4" y2="989.90" stroke="#222" stroke-width="2.3"/>
<text x="91.90" y="996.40" font-size="18" text-anchor="end" fill="#4d4d4d" >3</text>
<line x1="94.10000000000001" y1="930.70" x2="98.4" y2="930.70" stroke="#222" stroke-width="2.3"/>
<text x="91.90" y="937.20" font-size="18" text-anchor="end" fill="#4d4d4d" >4</text>
<line x1="94.10000000000001" y1="871.50" x2="98.4" y2="871.50" stroke="#222" stroke-width="2.3"/>
<text x="91.90" y="878.00" font-size="18" text-anchor="end" fill="#4d4d4d" >5</text>
<line x1="94.10000000000001" y1="812.30" x2="98.4" y2="812.30" stroke="#222" stroke-width="2.3"/>
<text x="91.90" y="818.80" font-size="18" text-anchor="end" fill="#4d4d4d" >6</text>
<line x1="94.10000000000001" y1="753.10" x2="98.4" y2="753.10" stroke="#222" stroke-width="2.3"/>
<text x="91.90" y="759.60" font-size="18" text-anchor="end" fill="#4d4d4d" >7</text>
<line x1="94.10000000000001" y1="693.90" x2="98.4" y2="693.90" stroke="#222" stroke-width="2.3"/>
<text x="91.90" y="700.40" font-size="18" text-anchor="end" fill="#4d4d4d" >8</text>
<line x1="94.10000000000001" y1="634.70" x2="98.4" y2="634.70" stroke="#222" stroke-width="2.3"/>
<text x="91.90" y="641.20" font-size="18" text-anchor="end" fill="#4d4d4d" >9</text>
<line x1="94.10000000000001" y1="575.50" x2="98.4" y2="575.50" stroke="#222" stroke-width="2.3"/>
<text x="91.90" y="582.00" font-size="18" text-anchor="end" fill="#4d4d4d" >10</text>
<line x1="94.10000000000001" y1="516.30" x2="98.4" y2="516.30" stroke="#222" stroke-width="2.3"/>
<text x="91.90" y="522.80" font-size="18" text-anchor="end" fill="#4d4d4d" >11</text>
<text x="499.30" y="1240.70" font-size="26.5" text-anchor="middle" font-weight="bold" fill="#000" >log2(fold_change)</text>
<text x="0" y="0" font-size="26" font-weight="bold" text-anchor="middle" fill="#000" transform="translate(46.6,838.5) rotate(-90)">−log10(P FDR)</text>
<rect x="249.25" y="1263.8" width="10.4" height="10.4" fill="#228B22"/>
<text x="265.45" y="1274.20" font-size="14.2" text-anchor="start" fill="#000" >Query1</text>
<rect x="319.00" y="1263.8" width="10.4" height="10.4" fill="#A020F0"/>
<text x="335.20" y="1274.20" font-size="14.2" text-anchor="start" fill="#000" >Query2</text>
<rect x="388.75" y="1263.8" width="10.4" height="10.4" fill="#FFB90F"/>
<text x="404.95" y="1274.20" font-size="14.2" text-anchor="start" fill="#000" >Query3</text>
<rect x="458.50" y="1263.8" width="10.4" height="10.4" fill="#FA8072"/>
<text x="474.70" y="1274.20" font-size="14.2" text-anchor="start" fill="#000" >Query4</text>
<rect x="528.25" y="1263.8" width="10.4" height="10.4" fill="#8B4513"/>
<text x="544.45" y="1274.20" font-size="14.2" text-anchor="start" fill="#000" >Query5</text>
<rect x="598.00" y="1263.8" width="10.4" height="10.4" fill="#9ACD32"/>
<text x="614.20" y="1274.20" font-size="14.2" text-anchor="start" fill="#000" >Query6</text>
<rect x="667.75" y="1263.8" width="10.4" height="10.4" fill="#8B0000"/>
<text x="683.95" y="1274.20" font-size="14.2" text-anchor="start" fill="#000" >Query7</text>
<text x="0" y="0" font-size="52.5" font-weight="bold" fill="#000" transform="translate(940.3,281.9) scale(0.95,1)">B</text>
<text x="1207.50" y="323.90" font-size="33.3" text-anchor="middle" font-weight="bold" fill="#000" >c-Myc T58/S62</text>
<rect x="1054.10" y="346.80" width="329.30" height="313.00" fill="#efefef" stroke="none"/>
<path d="M1054.10,659.80 L1054.10,495.16 L1054.10,494.42 L1071.88,472.54 L1103.49,417.81 L1136.33,396.41 L1152.14,390.33 L1169.16,379.39 L1185.70,374.04 L1219.02,351.66 L1234.83,351.66 L1250.63,346.80 L1383.42,346.80 L1383.42,346.80 L1366.16,346.80 L1350.35,352.15 L1334.05,368.44 L1317.52,374.04 L1300.49,374.04 L1284.68,379.63 L1267.66,390.58 L1234.83,423.41 L1153.35,477.40 L1136.33,495.15 L1120.52,516.80 L1086.47,549.63 L1086.70,550.25 L1070.56,659.80 Z" fill="#d1e1d6" stroke="none"/>
<path d="M1054.10,659.80 L1054.10,495.16 L1054.10,494.42 L1071.88,472.54 L1103.49,417.81 L1136.33,396.41 L1152.14,390.33 L1169.16,379.39 L1185.70,374.04 L1219.02,351.66 L1234.83,351.66 L1250.63,346.80 L1383.42,346.80" fill="none" stroke="#000" stroke-width="1.7" stroke-linejoin="round"/>
<path d="M1070.56,659.80 L1086.70,550.25 L1086.47,549.63 L1120.52,516.80 L1136.33,495.15 L1153.35,477.40 L1234.83,423.41 L1267.66,390.58 L1284.68,379.63 L1300.49,374.04 L1317.52,374.04 L1334.05,368.44 L1350.35,352.15 L1366.16,346.80 L1383.42,346.80" fill="none" stroke="#000" stroke-width="1.7" stroke-linejoin="round"/>
<line x1="1041.50" y1="672.20" x2="1396.40" y2="334.00" stroke="#9c9c9c" stroke-width="1.7"/>
<rect x="1054.10" y="346.80" width="329.30" height="313.00" fill="none" stroke="#000" stroke-width="1.9"/>
<path d="M1054.10,659.80 L1058.89,653.53 L1058.89,582.45 L1064.58,582.45 L1064.58,510.96 L1081.61,510.96 L1081.61,506.10 L1086.96,506.10 L1086.96,494.42 L1098.63,494.42 L1098.63,489.07 L1103.49,489.07 L1103.49,478.13 L1109.58,478.13 L1109.58,456.24 L1114.44,456.24 L1114.44,450.65 L1120.52,450.65 L1126.60,445.30 L1137.06,445.30 L1137.06,439.70 L1142.41,439.70 L1142.41,434.35 L1148.49,434.35 L1148.49,428.76 L1159.43,428.76 L1159.43,423.41 L1176.46,423.41 L1176.46,406.14 L1210.02,406.14 L1210.02,401.28 L1215.37,401.28 L1215.37,395.93 L1221.45,395.93 L1221.45,384.98 L1226.31,379.63 L1232.39,379.63 L1232.39,374.04 L1237.74,374.04 L1237.74,368.44 L1249.42,368.44 L1249.42,362.61 L1265.71,362.61 L1265.71,357.01 L1321.89,357.01 L1321.89,351.66 L1327.24,346.07 L1383.42,346.07" fill="none" stroke="#1a8740" stroke-width="4" stroke-linejoin="miter"/>
<rect x="1041.50" y="334.00" width="354.90" height="338.20" fill="none" stroke="#000" stroke-width="2"/>
<line x1="1383.40" y1="672.20" x2="1383.40" y2="678.70" stroke="#000" stroke-width="2"/>
<line x1="1035.00" y1="659.80" x2="1041.50" y2="659.80" stroke="#000" stroke-width="2"/>
<text x="1383.40" y="704.40" font-size="28" text-anchor="middle" fill="#000" >0</text>
<text x="0" y="0" font-size="28" text-anchor="middle" fill="#000" transform="translate(1034.30,663.20) rotate(-90)">0</text>
<line x1="1317.54" y1="672.20" x2="1317.54" y2="678.70" stroke="#000" stroke-width="2"/>
<line x1="1035.00" y1="597.20" x2="1041.50" y2="597.20" stroke="#000" stroke-width="2"/>
<text x="1317.54" y="704.40" font-size="28" text-anchor="middle" fill="#000" >20</text>
<text x="0" y="0" font-size="28" text-anchor="middle" fill="#000" transform="translate(1034.30,600.60) rotate(-90)">20</text>
<line x1="1251.68" y1="672.20" x2="1251.68" y2="678.70" stroke="#000" stroke-width="2"/>
<line x1="1035.00" y1="534.60" x2="1041.50" y2="534.60" stroke="#000" stroke-width="2"/>
<text x="1251.68" y="704.40" font-size="28" text-anchor="middle" fill="#000" >40</text>
<text x="0" y="0" font-size="28" text-anchor="middle" fill="#000" transform="translate(1034.30,538.00) rotate(-90)">40</text>
<line x1="1185.82" y1="672.20" x2="1185.82" y2="678.70" stroke="#000" stroke-width="2"/>
<line x1="1035.00" y1="472.00" x2="1041.50" y2="472.00" stroke="#000" stroke-width="2"/>
<text x="1185.82" y="704.40" font-size="28" text-anchor="middle" fill="#000" >60</text>
<text x="0" y="0" font-size="28" text-anchor="middle" fill="#000" transform="translate(1034.30,475.40) rotate(-90)">60</text>
<line x1="1119.96" y1="672.20" x2="1119.96" y2="678.70" stroke="#000" stroke-width="2"/>
<line x1="1035.00" y1="409.40" x2="1041.50" y2="409.40" stroke="#000" stroke-width="2"/>
<text x="1119.96" y="704.40" font-size="28" text-anchor="middle" fill="#000" >80</text>
<text x="0" y="0" font-size="28" text-anchor="middle" fill="#000" transform="translate(1034.30,412.80) rotate(-90)">80</text>
<line x1="1054.10" y1="672.20" x2="1054.10" y2="678.70" stroke="#000" stroke-width="2"/>
<line x1="1035.00" y1="346.80" x2="1041.50" y2="346.80" stroke="#000" stroke-width="2"/>
<text x="1054.10" y="704.40" font-size="28" text-anchor="middle" fill="#000" >100</text>
<text x="0" y="0" font-size="28" text-anchor="middle" fill="#000" transform="translate(1034.30,350.20) rotate(-90)">100</text>
<text x="1215.55" y="735.30" font-size="28" text-anchor="middle" fill="#000" >Specificity (%)</text>
<text x="0" y="0" font-size="28" text-anchor="middle" fill="#000" transform="translate(990.60,508.50) rotate(-90)">Sensitivity (%)</text>
<text x="1190.10" y="567.80" font-size="14.8" text-anchor="start" fill="#1e8c4a" >AUC: 80.3% (72.4%–88.3%)</text>
<text x="1205.00" y="592.20" font-size="16.3" text-anchor="start" fill="#000" >p: 0.000000008713443</text>
<text x="1205.00" y="611.60" font-size="16.3" text-anchor="start" fill="#000" >Threshold: 14713.2</text>
<text x="1205.00" y="631.00" font-size="16.3" text-anchor="start" fill="#000" >Sensitivity: 66.67%</text>
<text x="1205.00" y="649.90" font-size="16.3" text-anchor="start" fill="#000" >Specificity: 81.36%</text>
<line x1="1201.9" y1="583.7" x2="1201.9" y2="654.6" stroke="#000" stroke-width="2.8"/>
<text x="1219.00" y="834.30" font-size="33.3" text-anchor="middle" font-weight="bold" fill="#000" >TSC2 Y1571</text>
<rect x="1054.10" y="854.80" width="329.30" height="313.50" fill="#efefef" stroke="none"/>
<path d="M1054.10,1168.30 L1054.10,1146.19 L1070.60,1124.38 L1103.41,1102.90 L1120.15,1081.09 L1136.55,1048.21 L1152.62,932.45 L1169.36,904.93 L1186.09,888.15 L1202.83,877.75 L1218.57,866.34 L1234.63,860.30 L1251.37,860.30 L1268.11,854.80 L1383.37,854.80 L1383.37,854.80 L1366.86,882.11 L1351.13,882.11 L1334.39,887.82 L1318.32,887.82 L1301.59,892.85 L1284.85,898.89 L1268.11,910.63 L1251.37,926.74 L1234.63,948.55 L1218.57,1047.54 L1201.83,1096.86 L1186.09,1118.67 L1169.36,1129.75 L1152.62,1141.15 L1136.55,1152.23 L1120.15,1157.93 L1103.41,1157.93 L1087.34,1168.30 Z" fill="#d1e1d6" stroke="none"/>
<path d="M1054.10,1168.30 L1054.10,1146.19 L1070.60,1124.38 L1103.41,1102.90 L1120.15,1081.09 L1136.55,1048.21 L1152.62,932.45 L1169.36,904.93 L1186.09,888.15 L1202.83,877.75 L1218.57,866.34 L1234.63,860.30 L1251.37,860.30 L1268.11,854.80 L1383.37,854.80" fill="none" stroke="#000" stroke-width="1.7" stroke-linejoin="round"/>
<path d="M1087.34,1168.30 L1103.41,1157.93 L1120.15,1157.93 L1136.55,1152.23 L1152.62,1141.15 L1169.36,1129.75 L1186.09,1118.67 L1201.83,1096.86 L1218.57,1047.54 L1234.63,948.55 L1251.37,926.74 L1268.11,910.63 L1284.85,898.89 L1301.59,892.85 L1318.32,887.82 L1334.39,887.82 L1351.13,882.11 L1366.86,882.11 L1383.37,854.80" fill="none" stroke="#000" stroke-width="1.7" stroke-linejoin="round"/>
<line x1="1041.50" y1="1181.00" x2="1396.40" y2="842.30" stroke="#9c9c9c" stroke-width="1.7"/>
<rect x="1054.10" y="854.80" width="329.30" height="313.50" fill="none" stroke="#000" stroke-width="1.9"/>
<path d="M1054.10,1168.30 L1058.89,1168.30 L1058.89,1163.30 L1070.60,1163.30 L1070.60,1147.19 L1087.34,1147.19 L1087.34,1135.45 L1115.13,1135.45 L1115.13,1124.71 L1125.84,1124.71 L1125.84,1119.34 L1131.86,1119.34 L1131.86,1113.64 L1137.55,1113.64 L1137.55,1102.90 L1160.32,1102.90 L1160.32,1085.79 L1165.34,1085.79 L1165.34,1080.42 L1171.03,1080.42 L1171.03,1047.20 L1182.08,1047.20 L1182.08,953.58 L1187.77,953.58 L1187.77,931.77 L1198.82,931.77 L1198.82,920.70 L1215.55,920.70 L1215.55,909.63 L1221.24,903.92 L1221.24,898.89 L1226.27,898.89 L1226.27,892.85 L1232.29,892.85 L1232.29,887.82 L1254.72,887.82 L1254.72,871.04 L1321.00,871.04 L1321.00,865.34 L1371.88,865.34 L1371.88,859.30 L1378.58,856.95 L1383.37,854.80" fill="none" stroke="#1a8740" stroke-width="4" stroke-linejoin="miter"/>
<rect x="1041.50" y="842.30" width="354.90" height="338.70" fill="none" stroke="#000" stroke-width="2"/>
<line x1="1383.40" y1="1181.00" x2="1383.40" y2="1187.50" stroke="#000" stroke-width="2"/>
<line x1="1035.00" y1="1168.30" x2="1041.50" y2="1168.30" stroke="#000" stroke-width="2"/>
<text x="1383.40" y="1212.50" font-size="28" text-anchor="middle" fill="#000" >0</text>
<text x="0" y="0" font-size="28" text-anchor="middle" fill="#000" transform="translate(1029.80,1171.90) rotate(-90)">0</text>
<line x1="1317.54" y1="1181.00" x2="1317.54" y2="1187.50" stroke="#000" stroke-width="2"/>
<line x1="1035.00" y1="1105.60" x2="1041.50" y2="1105.60" stroke="#000" stroke-width="2"/>
<text x="1317.54" y="1212.50" font-size="28" text-anchor="middle" fill="#000" >20</text>
<text x="0" y="0" font-size="28" text-anchor="middle" fill="#000" transform="translate(1029.80,1109.20) rotate(-90)">20</text>
<line x1="1251.68" y1="1181.00" x2="1251.68" y2="1187.50" stroke="#000" stroke-width="2"/>
<line x1="1035.00" y1="1042.90" x2="1041.50" y2="1042.90" stroke="#000" stroke-width="2"/>
<text x="1251.68" y="1212.50" font-size="28" text-anchor="middle" fill="#000" >40</text>
<text x="0" y="0" font-size="28" text-anchor="middle" fill="#000" transform="translate(1029.80,1046.50) rotate(-90)">40</text>
<line x1="1185.82" y1="1181.00" x2="1185.82" y2="1187.50" stroke="#000" stroke-width="2"/>
<line x1="1035.00" y1="980.20" x2="1041.50" y2="980.20" stroke="#000" stroke-width="2"/>
<text x="1185.82" y="1212.50" font-size="28" text-anchor="middle" fill="#000" >60</text>
<text x="0" y="0" font-size="28" text-anchor="middle" fill="#000" transform="translate(1029.80,983.80) rotate(-90)">60</text>
<line x1="1119.96" y1="1181.00" x2="1119.96" y2="1187.50" stroke="#000" stroke-width="2"/>
<line x1="1035.00" y1="917.50" x2="1041.50" y2="917.50" stroke="#000" stroke-width="2"/>
<text x="1119.96" y="1212.50" font-size="28" text-anchor="middle" fill="#000" >80</text>
<text x="0" y="0" font-size="28" text-anchor="middle" fill="#000" transform="translate(1029.80,921.10) rotate(-90)">80</text>
<line x1="1054.10" y1="1181.00" x2="1054.10" y2="1187.50" stroke="#000" stroke-width="2"/>
<line x1="1035.00" y1="854.80" x2="1041.50" y2="854.80" stroke="#000" stroke-width="2"/>
<text x="1054.10" y="1212.50" font-size="28" text-anchor="middle" fill="#000" >100</text>
<text x="0" y="0" font-size="28" text-anchor="middle" fill="#000" transform="translate(1029.80,858.40) rotate(-90)">100</text>
<text x="1215.55" y="1243.60" font-size="28" text-anchor="middle" fill="#000" >Specificity (%)</text>
<text x="0" y="0" font-size="28" text-anchor="middle" fill="#000" transform="translate(990.60,1016.75) rotate(-90)">Sensitivity (%)</text>
<text x="1191.20" y="1083.70" font-size="14.8" text-anchor="start" fill="#1e8c4a" >AUC: 61.5% (50.6%–72.4%)</text>
<text x="1218.20" y="1104.40" font-size="16.3" text-anchor="start" fill="#000" >p: 0.01.640242</text>
<text x="1218.20" y="1123.20" font-size="16.3" text-anchor="start" fill="#000" >Threshold: 640.1</text>
<text x="1218.20" y="1142.60" font-size="16.3" text-anchor="start" fill="#000" >Sensitivity: 89.47%</text>
<text x="1218.20" y="1161.40" font-size="16.3" text-anchor="start" fill="#000" >Specificity: 45.76%</text>
<line x1="1213.3" y1="1093.5" x2="1213.3" y2="1163.7" stroke="#000" stroke-width="2.8"/>
<text x="1215.60" y="1343.50" font-size="24.3" text-anchor="middle" font-weight="bold" fill="#000" >c-Myc T58/S62 / TSC2 Y1571</text>
<path d="M1066.30,1668.00 L1066.30,1566.47 L1081.53,1501.83 L1096.16,1455.48 L1112.00,1422.86 L1133.94,1389.93 L1142.47,1378.95 L1157.10,1374.08 L1169.14,1374.08 L1188.48,1368.59 L1203.11,1368.59 L1217.74,1363.10 L1307.62,1363.10 L1371.00,1363.10 L1371.00,1363.10 L1307.62,1363.10 L1294.52,1385.05 L1249.42,1400.91 L1234.80,1400.91 L1220.17,1405.48 L1203.11,1410.66 L1188.48,1433.53 L1173.86,1459.14 L1157.41,1481.10 L1142.17,1514.64 L1127.24,1539.94 L1112.31,1565.55 L1096.62,1616.78 L1081.23,1668.00 Z" fill="#dcdcdc" stroke="none"/>
<path d="M1066.30,1668.00 L1066.30,1566.47 L1081.53,1501.83 L1096.16,1455.48 L1112.00,1422.86 L1133.94,1389.93 L1142.47,1378.95 L1157.10,1374.08 L1169.14,1374.08 L1188.48,1368.59 L1203.11,1368.59 L1217.74,1363.10 L1307.62,1363.10 L1371.00,1363.10" fill="none" stroke="#000" stroke-width="1.7" stroke-linejoin="round"/>
<path d="M1081.23,1668.00 L1096.62,1616.78 L1112.31,1565.55 L1127.24,1539.94 L1142.17,1514.64 L1157.41,1481.10 L1173.86,1459.14 L1188.48,1433.53 L1203.11,1410.66 L1220.17,1405.48 L1234.80,1400.91 L1249.42,1400.91 L1294.52,1385.05 L1307.62,1363.10 L1371.00,1363.10" fill="none" stroke="#000" stroke-width="1.7" stroke-linejoin="round"/>
<line x1="1054.10" y1="1680.20" x2="1383.20" y2="1350.90" stroke="#9c9c9c" stroke-width="1.7"/>
<path d="M1066.30,1668.00 L1070.99,1668.00 L1070.99,1640.77 L1076.29,1640.77 L1076.29,1597.87 L1081.29,1597.87 L1081.29,1577.14 L1086.62,1577.14 L1086.62,1544.52 L1091.29,1544.52 L1091.29,1528.66 L1096.62,1528.66 L1096.62,1517.99 L1106.92,1517.99 L1106.92,1497.26 L1112.31,1497.26 L1112.31,1486.58 L1122.67,1486.58 L1122.67,1453.96 L1133.33,1453.96 L1133.33,1443.29 L1137.90,1443.29 L1137.90,1438.41 L1148.57,1438.41 L1148.57,1432.31 L1154.05,1432.31 L1154.05,1410.97 L1158.62,1410.97 L1158.62,1400.91 L1162.28,1400.91 L1162.28,1397.25 L1166.24,1397.25 L1166.24,1393.59 L1169.14,1393.59 L1169.14,1389.93 L1205.55,1389.93 L1205.55,1385.05 L1210.42,1385.05 L1210.42,1378.95 L1267.10,1378.95 L1267.10,1374.08 L1278.68,1374.08 L1278.68,1363.10 L1371.00,1363.10" fill="none" stroke="#000" stroke-width="3" stroke-linejoin="miter"/>
<path d="M1169.14,1368.59 L1169.14,1417.37 M1165.14,1368.59 L1173.14,1368.59 M1165.14,1417.37 L1173.14,1417.37" stroke="#000" stroke-width="2.2" fill="none"/>
<path d="M1133.33,1389.93 L1205.55,1389.93 M1133.33,1386.23 L1133.33,1393.63 M1205.55,1386.23 L1205.55,1393.63" stroke="#000" stroke-width="2.2" fill="none"/>
<circle cx="1169.14" cy="1389.93" r="1.2" fill="#000"/>
<rect x="1054.10" y="1350.90" width="329.10" height="329.30" fill="none" stroke="#000" stroke-width="2"/>
<line x1="1371.00" y1="1680.20" x2="1371.00" y2="1685.00" stroke="#000" stroke-width="2"/>
<line x1="1049.30" y1="1668.00" x2="1054.10" y2="1668.00" stroke="#000" stroke-width="2"/>
<text x="1371.00" y="1706.60" font-size="27" text-anchor="middle" fill="#000" >0</text>
<text x="0" y="0" font-size="27" text-anchor="middle" fill="#000" transform="translate(1044.30,1670.90) rotate(-90)">0</text>
<line x1="1310.06" y1="1680.20" x2="1310.06" y2="1685.00" stroke="#000" stroke-width="2"/>
<line x1="1049.30" y1="1607.02" x2="1054.10" y2="1607.02" stroke="#000" stroke-width="2"/>
<text x="1310.06" y="1706.60" font-size="27" text-anchor="middle" fill="#000" >20</text>
<text x="0" y="0" font-size="27" text-anchor="middle" fill="#000" transform="translate(1044.30,1609.92) rotate(-90)">20</text>
<line x1="1249.12" y1="1680.20" x2="1249.12" y2="1685.00" stroke="#000" stroke-width="2"/>
<line x1="1049.30" y1="1546.04" x2="1054.10" y2="1546.04" stroke="#000" stroke-width="2"/>
<text x="1249.12" y="1706.60" font-size="27" text-anchor="middle" fill="#000" >40</text>
<text x="0" y="0" font-size="27" text-anchor="middle" fill="#000" transform="translate(1044.30,1548.94) rotate(-90)">40</text>
<line x1="1188.18" y1="1680.20" x2="1188.18" y2="1685.00" stroke="#000" stroke-width="2"/>
<line x1="1049.30" y1="1485.06" x2="1054.10" y2="1485.06" stroke="#000" stroke-width="2"/>
<text x="1188.18" y="1706.60" font-size="27" text-anchor="middle" fill="#000" >60</text>
<text x="0" y="0" font-size="27" text-anchor="middle" fill="#000" transform="translate(1044.30,1487.96) rotate(-90)">60</text>
<line x1="1127.24" y1="1680.20" x2="1127.24" y2="1685.00" stroke="#000" stroke-width="2"/>
<line x1="1049.30" y1="1424.08" x2="1054.10" y2="1424.08" stroke="#000" stroke-width="2"/>
<text x="1127.24" y="1706.60" font-size="27" text-anchor="middle" fill="#000" >80</text>
<text x="0" y="0" font-size="27" text-anchor="middle" fill="#000" transform="translate(1044.30,1426.98) rotate(-90)">80</text>
<line x1="1066.30" y1="1680.20" x2="1066.30" y2="1685.00" stroke="#000" stroke-width="2"/>
<line x1="1049.30" y1="1363.10" x2="1054.10" y2="1363.10" stroke="#000" stroke-width="2"/>
<text x="1066.30" y="1706.60" font-size="27" text-anchor="middle" fill="#000" >100</text>
<text x="0" y="0" font-size="27" text-anchor="middle" fill="#000" transform="translate(1044.30,1366.00) rotate(-90)">100</text>
<text x="1222.45" y="1740.20" font-size="27.2" text-anchor="middle" fill="#000" >Specificity (%)</text>
<text x="0" y="0" font-size="27.2" text-anchor="middle" fill="#000" transform="translate(998.50,1502.75) rotate(-90)">Sensitivity (%)</text>
<text x="1151.40" y="1574.90" font-size="18" text-anchor="start" fill="#1666ba" >AUC: 82.9% (75.3%–90.5%)</text>
<text x="1165.80" y="1600.20" font-size="16.5" text-anchor="start" fill="#000" >p: 5.0487e−10</text>
<text x="1165.80" y="1618.30" font-size="16.5" text-anchor="start" fill="#000" >Thresholds: 16564.22 / 977.5</text>
<text x="1165.80" y="1638.60" font-size="16.5" text-anchor="start" fill="#000" >Sensitivity: 91.23%</text>
<text x="1165.80" y="1656.70" font-size="16.5" text-anchor="start" fill="#000" >Specificity: 66.1%</text>
<line x1="1160.5" y1="1588.8" x2="1160.5" y2="1659.8" stroke="#000" stroke-width="2.8"/>
<text x="1178.90" y="1418.30" font-size="14.2" text-anchor="start" fill="#000" >0.4 (66.1%, 91.2%)</text>
<text x="0" y="0" font-size="53.8" font-weight="bold" fill="#000" transform="translate(108.05,1350.5) scale(0.938,1)">C</text>
<clipPath id="cclip"><rect x="284.2" y="1350.4" width="508.00" height="461.90"/></clipPath>
<g clip-path="url(#cclip)">
<line x1="334.64" y1="1350.4" x2="334.64" y2="1812.3" stroke="#ebebeb" stroke-width="1.1"/>
<line x1="436.76" y1="1350.4" x2="436.76" y2="1812.3" stroke="#ebebeb" stroke-width="1.1"/>
<line x1="538.89" y1="1350.4" x2="538.89" y2="1812.3" stroke="#ebebeb" stroke-width="1.1"/>
<line x1="641.01" y1="1350.4" x2="641.01" y2="1812.3" stroke="#ebebeb" stroke-width="1.1"/>
<line x1="743.14" y1="1350.4" x2="743.14" y2="1812.3" stroke="#ebebeb" stroke-width="1.1"/>
<line x1="284.2" y1="1749.41" x2="792.2" y2="1749.41" stroke="#ebebeb" stroke-width="1.2"/>
<line x1="284.2" y1="1664.63" x2="792.2" y2="1664.63" stroke="#ebebeb" stroke-width="1.2"/>
<line x1="284.2" y1="1579.85" x2="792.2" y2="1579.85" stroke="#ebebeb" stroke-width="1.2"/>
<line x1="284.2" y1="1495.07" x2="792.2" y2="1495.07" stroke="#ebebeb" stroke-width="1.2"/>
<line x1="284.2" y1="1410.29" x2="792.2" y2="1410.29" stroke="#ebebeb" stroke-width="1.2"/>
<line x1="284.2" y1="1791.80" x2="792.2" y2="1791.80" stroke="#ebebeb" stroke-width="2.3"/>
<line x1="284.2" y1="1707.02" x2="792.2" y2="1707.02" stroke="#ebebeb" stroke-width="2.3"/>
<line x1="284.2" y1="1622.24" x2="792.2" y2="1622.24" stroke="#ebebeb" stroke-width="2.3"/>
<line x1="284.2" y1="1537.46" x2="792.2" y2="1537.46" stroke="#ebebeb" stroke-width="2.3"/>
<line x1="284.2" y1="1452.68" x2="792.2" y2="1452.68" stroke="#ebebeb" stroke-width="2.3"/>
<line x1="284.2" y1="1367.90" x2="792.2" y2="1367.90" stroke="#ebebeb" stroke-width="2.3"/>
<line x1="385.70" y1="1350.4" x2="385.70" y2="1812.3" stroke="#ffffff" stroke-width="2.6"/>
<line x1="487.82" y1="1350.4" x2="487.82" y2="1812.3" stroke="#ffffff" stroke-width="2.6"/>
<line x1="589.95" y1="1350.4" x2="589.95" y2="1812.3" stroke="#ffffff" stroke-width="2.6"/>
<line x1="692.08" y1="1350.4" x2="692.08" y2="1812.3" stroke="#ffffff" stroke-width="2.6"/>
<ellipse cx="531.1" cy="1504.4" rx="225" ry="115.5" transform="rotate(-3.2 531.1 1504.4)" fill="#9a9a9a" fill-opacity="0.165"/>
<ellipse cx="579.8" cy="1551" rx="140" ry="76.5" transform="rotate(-7.5 579.8 1551)" fill="#b22222" fill-opacity="0.17"/>
<circle cx="627.7" cy="1370.7" r="9.3" fill="#006400" fill-opacity="0.75" stroke="#1a1a1a" stroke-width="0.7"/>
<circle cx="715.3" cy="1378.7" r="9.3" fill="#006400" fill-opacity="0.75" stroke="#1a1a1a" stroke-width="0.7"/>
<circle cx="591" cy="1391.1" r="9.3" fill="#006400" fill-opacity="0.75" stroke="#1a1a1a" stroke-width="0.7"/>
<circle cx="529.6" cy="1427" r="9.3" fill="#006400" fill-opacity="0.75" stroke="#1a1a1a" stroke-width="0.7"/>
<circle cx="435.9" cy="1481.9" r="9.3" fill="#006400" fill-opacity="0.75" stroke="#1a1a1a" stroke-width="0.7"/>
<circle cx="445.7" cy="1480.1" r="9.3" fill="#006400" fill-opacity="0.75" stroke="#1a1a1a" stroke-width="0.7"/>
<circle cx="468.6" cy="1474.3" r="9.3" fill="#006400" fill-opacity="0.75" stroke="#1a1a1a" stroke-width="0.7"/>
<circle cx="473" cy="1483.7" r="9.3" fill="#006400" fill-opacity="0.75" stroke="#1a1a1a" stroke-width="0.7"/>
<circle cx="453" cy="1507" r="9.3" fill="#006400" fill-opacity="0.75" stroke="#1a1a1a" stroke-width="0.7"/>
<circle cx="411.9" cy="1509.9" r="9.3" fill="#006400" fill-opacity="0.75" stroke="#1a1a1a" stroke-width="0.7"/>
<circle cx="416.6" cy="1515.3" r="9.3" fill="#006400" fill-opacity="0.75" stroke="#1a1a1a" stroke-width="0.7"/>
<circle cx="445.7" cy="1517.2" r="9.3" fill="#006400" fill-opacity="0.75" stroke="#1a1a1a" stroke-width="0.7"/>
<circle cx="385.7" cy="1558.2" r="9.3" fill="#006400" fill-opacity="0.75" stroke="#1a1a1a" stroke-width="0.7"/>
<circle cx="594.7" cy="1549.9" r="9.3" fill="#006400" fill-opacity="0.75" stroke="#1a1a1a" stroke-width="0.7"/>
<circle cx="628.5" cy="1520.8" r="9.3" fill="#006400" fill-opacity="0.75" stroke="#1a1a1a" stroke-width="0.7"/>
<circle cx="639.4" cy="1539" r="9.3" fill="#006400" fill-opacity="0.75" stroke="#1a1a1a" stroke-width="0.7"/>
<circle cx="647.4" cy="1489.9" r="9.3" fill="#006400" fill-opacity="0.75" stroke="#1a1a1a" stroke-width="0.7"/>
<path d="M438.4,1382.80 L450.70,1395.1 L438.4,1407.40 L426.10,1395.1 Z" fill="#A020F0" fill-opacity="0.72" stroke="#1a1a1a" stroke-width="0.7"/>
<path d="M655.4,1398.40 L667.70,1410.7 L655.4,1423.00 L643.10,1410.7 Z" fill="#A020F0" fill-opacity="0.72" stroke="#1a1a1a" stroke-width="0.7"/>
<path d="M675.7,1419.50 L688.00,1431.8 L675.7,1444.10 L663.40,1431.8 Z" fill="#A020F0" fill-opacity="0.72" stroke="#1a1a1a" stroke-width="0.7"/>
<path d="M499.1,1446.70 L511.40,1459 L499.1,1471.30 L486.80,1459 Z" fill="#A020F0" fill-opacity="0.72" stroke="#1a1a1a" stroke-width="0.7"/>
<path d="M631,1449.30 L643.30,1461.6 L631,1473.90 L618.70,1461.6 Z" fill="#A020F0" fill-opacity="0.72" stroke="#1a1a1a" stroke-width="0.7"/>
<path d="M398.5,1490.30 L410.80,1502.6 L398.5,1514.90 L386.20,1502.6 Z" fill="#A020F0" fill-opacity="0.72" stroke="#1a1a1a" stroke-width="0.7"/>
<path d="M473.7,1493.20 L486.00,1505.5 L473.7,1517.80 L461.40,1505.5 Z" fill="#A020F0" fill-opacity="0.72" stroke="#1a1a1a" stroke-width="0.7"/>
<path d="M507.5,1484.90 L519.80,1497.2 L507.5,1509.50 L495.20,1497.2 Z" fill="#A020F0" fill-opacity="0.72" stroke="#1a1a1a" stroke-width="0.7"/>
<path d="M519.5,1489.60 L531.80,1501.9 L519.5,1514.20 L507.20,1501.9 Z" fill="#A020F0" fill-opacity="0.72" stroke="#1a1a1a" stroke-width="0.7"/>
<path d="M513.7,1505.60 L526.00,1517.9 L513.7,1530.20 L501.40,1517.9 Z" fill="#A020F0" fill-opacity="0.72" stroke="#1a1a1a" stroke-width="0.7"/>
<path d="M531.1,1513.20 L543.40,1525.5 L531.1,1537.80 L518.80,1525.5 Z" fill="#A020F0" fill-opacity="0.72" stroke="#1a1a1a" stroke-width="0.7"/>
<path d="M482,1517.60 L494.30,1529.9 L482,1542.20 L469.70,1529.9 Z" fill="#A020F0" fill-opacity="0.72" stroke="#1a1a1a" stroke-width="0.7"/>
<path d="M552.9,1521.20 L565.20,1533.5 L552.9,1545.80 L540.60,1533.5 Z" fill="#A020F0" fill-opacity="0.72" stroke="#1a1a1a" stroke-width="0.7"/>
<path d="M465.7,1544.80 L478.00,1557.1 L465.7,1569.40 L453.40,1557.1 Z" fill="#A020F0" fill-opacity="0.72" stroke="#1a1a1a" stroke-width="0.7"/>
<path d="M509.3,1542.30 L521.60,1554.6 L509.3,1566.90 L497.00,1554.6 Z" fill="#A020F0" fill-opacity="0.72" stroke="#1a1a1a" stroke-width="0.7"/>
<path d="M538.4,1544.80 L550.70,1557.1 L538.4,1569.40 L526.10,1557.1 Z" fill="#A020F0" fill-opacity="0.72" stroke="#1a1a1a" stroke-width="0.7"/>
<path d="M684.8,1501.20 L697.10,1513.5 L684.8,1525.80 L672.50,1513.5 Z" fill="#A020F0" fill-opacity="0.72" stroke="#1a1a1a" stroke-width="0.7"/>
<path d="M669.2,1523.00 L681.50,1535.3 L669.2,1547.60 L656.90,1535.3 Z" fill="#A020F0" fill-opacity="0.72" stroke="#1a1a1a" stroke-width="0.7"/>
<path d="M661.9,1537.60 L674.20,1549.9 L661.9,1562.20 L649.60,1549.9 Z" fill="#A020F0" fill-opacity="0.72" stroke="#1a1a1a" stroke-width="0.7"/>
<path d="M656.5,1564.80 L668.80,1577.1 L656.5,1589.40 L644.20,1577.1 Z" fill="#A020F0" fill-opacity="0.72" stroke="#1a1a1a" stroke-width="0.7"/>
<path d="M643.7,1486.00 L656.00,1498.3 L643.7,1510.60 L631.40,1498.3 Z" fill="#A020F0" fill-opacity="0.72" stroke="#1a1a1a" stroke-width="0.7"/>
<path d="M523.8,1499.40 L536.10,1511.7 L523.8,1524.00 L511.50,1511.7 Z" fill="#A020F0" fill-opacity="0.72" stroke="#1a1a1a" stroke-width="0.7"/>
<path d="M615.4,1374.80 L627.70,1387.1 L615.4,1399.40 L603.10,1387.1 Z" fill="#FFA500" fill-opacity="0.75" stroke="#1a1a1a" stroke-width="0.7"/>
<path d="M705.5,1416.60 L717.80,1428.9 L705.5,1441.20 L693.20,1428.9 Z" fill="#FFA500" fill-opacity="0.75" stroke="#1a1a1a" stroke-width="0.7"/>
<path d="M535.5,1428.50 L547.80,1440.8 L535.5,1453.10 L523.20,1440.8 Z" fill="#FFA500" fill-opacity="0.75" stroke="#1a1a1a" stroke-width="0.7"/>
<path d="M448.2,1440.20 L460.50,1452.5 L448.2,1464.80 L435.90,1452.5 Z" fill="#FFA500" fill-opacity="0.75" stroke="#1a1a1a" stroke-width="0.7"/>
<path d="M476.6,1445.60 L488.90,1457.9 L476.6,1470.20 L464.30,1457.9 Z" fill="#FFA500" fill-opacity="0.75" stroke="#1a1a1a" stroke-width="0.7"/>
<path d="M525.6,1446.70 L537.90,1459 L525.6,1471.30 L513.30,1459 Z" fill="#FFA500" fill-opacity="0.75" stroke="#1a1a1a" stroke-width="0.7"/>
<path d="M621.2,1476.90 L633.50,1489.2 L621.2,1501.50 L608.90,1489.2 Z" fill="#FFA500" fill-opacity="0.75" stroke="#1a1a1a" stroke-width="0.7"/>
<path d="M650.3,1476.90 L662.60,1489.2 L650.3,1501.50 L638.00,1489.2 Z" fill="#FFA500" fill-opacity="0.75" stroke="#1a1a1a" stroke-width="0.7"/>
<path d="M421.4,1501.90 L433.70,1514.2 L421.4,1526.50 L409.10,1514.2 Z" fill="#FFA500" fill-opacity="0.75" stroke="#1a1a1a" stroke-width="0.7"/>
<path d="M431.2,1504.90 L443.50,1517.2 L431.2,1529.50 L418.90,1517.2 Z" fill="#FFA500" fill-opacity="0.75" stroke="#1a1a1a" stroke-width="0.7"/>
<path d="M425.7,1515.80 L438.00,1528.1 L425.7,1540.40 L413.40,1528.1 Z" fill="#FFA500" fill-opacity="0.75" stroke="#1a1a1a" stroke-width="0.7"/>
<path d="M385.7,1536.80 L398.00,1549.1 L385.7,1561.40 L373.40,1549.1 Z" fill="#FFA500" fill-opacity="0.75" stroke="#1a1a1a" stroke-width="0.7"/>
<path d="M494,1529.60 L506.30,1541.9 L494,1554.20 L481.70,1541.9 Z" fill="#FFA500" fill-opacity="0.75" stroke="#1a1a1a" stroke-width="0.7"/>
<path d="M624.8,1503.00 L637.10,1515.3 L624.8,1527.60 L612.50,1515.3 Z" fill="#FFA500" fill-opacity="0.75" stroke="#1a1a1a" stroke-width="0.7"/>
<path d="M684.8,1539.40 L697.10,1551.7 L684.8,1564.00 L672.50,1551.7 Z" fill="#FFA500" fill-opacity="0.75" stroke="#1a1a1a" stroke-width="0.7"/>
<path d="M769.8,1779.50 L782.10,1791.8 L769.8,1804.10 L757.50,1791.8 Z" fill="#FFA500" fill-opacity="0.75" stroke="#1a1a1a" stroke-width="0.7"/>
<rect x="377.10" y="1498.40" width="17.2" height="17.2" fill="#8B0000" fill-opacity="0.75" stroke="#1a1a1a" stroke-width="0.7"/>
<rect x="389.10" y="1560.20" width="17.2" height="17.2" fill="#8B0000" fill-opacity="0.75" stroke="#1a1a1a" stroke-width="0.7"/>
<rect x="434.60" y="1575.80" width="17.2" height="17.2" fill="#8B0000" fill-opacity="0.75" stroke="#1a1a1a" stroke-width="0.7"/>
<rect x="595.90" y="1443.90" width="17.2" height="17.2" fill="#8B0000" fill-opacity="0.75" stroke="#1a1a1a" stroke-width="0.7"/>
<rect x="645.30" y="1445.70" width="17.2" height="17.2" fill="#8B0000" fill-opacity="0.75" stroke="#1a1a1a" stroke-width="0.7"/>
<rect x="689.70" y="1482.40" width="17.2" height="17.2" fill="#8B0000" fill-opacity="0.75" stroke="#1a1a1a" stroke-width="0.7"/>
<rect x="551.60" y="1493.30" width="17.2" height="17.2" fill="#8B0000" fill-opacity="0.75" stroke="#1a1a1a" stroke-width="0.7"/>
<rect x="577.00" y="1501.30" width="17.2" height="17.2" fill="#8B0000" fill-opacity="0.75" stroke="#1a1a1a" stroke-width="0.7"/>
<rect x="577.00" y="1510.40" width="17.2" height="17.2" fill="#8B0000" fill-opacity="0.75" stroke="#1a1a1a" stroke-width="0.7"/>
<rect x="575.20" y="1515.10" width="17.2" height="17.2" fill="#8B0000" fill-opacity="0.75" stroke="#1a1a1a" stroke-width="0.7"/>
<rect x="521.80" y="1504.90" width="17.2" height="17.2" fill="#8B0000" fill-opacity="0.75" stroke="#1a1a1a" stroke-width="0.7"/>
<rect x="598.10" y="1513.30" width="17.2" height="17.2" fill="#8B0000" fill-opacity="0.75" stroke="#1a1a1a" stroke-width="0.7"/>
<rect x="613.30" y="1500.60" width="17.2" height="17.2" fill="#8B0000" fill-opacity="0.75" stroke="#1a1a1a" stroke-width="0.7"/>
<rect x="634.40" y="1495.80" width="17.2" height="17.2" fill="#8B0000" fill-opacity="0.75" stroke="#1a1a1a" stroke-width="0.7"/>
<rect x="634.40" y="1515.10" width="17.2" height="17.2" fill="#8B0000" fill-opacity="0.75" stroke="#1a1a1a" stroke-width="0.7"/>
<rect x="664.20" y="1520.20" width="17.2" height="17.2" fill="#8B0000" fill-opacity="0.75" stroke="#1a1a1a" stroke-width="0.7"/>
<rect x="692.60" y="1524.90" width="17.2" height="17.2" fill="#8B0000" fill-opacity="0.75" stroke="#1a1a1a" stroke-width="0.7"/>
<rect x="692.20" y="1527.40" width="17.2" height="17.2" fill="#8B0000" fill-opacity="0.75" stroke="#1a1a1a" stroke-width="0.7"/>
<rect x="497.10" y="1526.70" width="17.2" height="17.2" fill="#8B0000" fill-opacity="0.75" stroke="#1a1a1a" stroke-width="0.7"/>
<rect x="510.90" y="1537.60" width="17.2" height="17.2" fill="#8B0000" fill-opacity="0.75" stroke="#1a1a1a" stroke-width="0.7"/>
<rect x="519.60" y="1534.00" width="17.2" height="17.2" fill="#8B0000" fill-opacity="0.75" stroke="#1a1a1a" stroke-width="0.7"/>
<rect x="530.90" y="1540.50" width="17.2" height="17.2" fill="#8B0000" fill-opacity="0.75" stroke="#1a1a1a" stroke-width="0.7"/>
<rect x="544.30" y="1537.60" width="17.2" height="17.2" fill="#8B0000" fill-opacity="0.75" stroke="#1a1a1a" stroke-width="0.7"/>
<rect x="560.60" y="1532.20" width="17.2" height="17.2" fill="#8B0000" fill-opacity="0.75" stroke="#1a1a1a" stroke-width="0.7"/>
<rect x="520.70" y="1563.10" width="17.2" height="17.2" fill="#8B0000" fill-opacity="0.75" stroke="#1a1a1a" stroke-width="0.7"/>
<rect x="521.80" y="1579.40" width="17.2" height="17.2" fill="#8B0000" fill-opacity="0.75" stroke="#1a1a1a" stroke-width="0.7"/>
<rect x="492.70" y="1559.40" width="17.2" height="17.2" fill="#8B0000" fill-opacity="0.75" stroke="#1a1a1a" stroke-width="0.7"/>
<rect x="496.00" y="1566.70" width="17.2" height="17.2" fill="#8B0000" fill-opacity="0.75" stroke="#1a1a1a" stroke-width="0.7"/>
<rect x="546.10" y="1572.10" width="17.2" height="17.2" fill="#8B0000" fill-opacity="0.75" stroke="#1a1a1a" stroke-width="0.7"/>
<rect x="545.00" y="1584.10" width="17.2" height="17.2" fill="#8B0000" fill-opacity="0.75" stroke="#1a1a1a" stroke-width="0.7"/>
<rect x="561.40" y="1576.90" width="17.2" height="17.2" fill="#8B0000" fill-opacity="0.75" stroke="#1a1a1a" stroke-width="0.7"/>
<rect x="569.70" y="1570.30" width="17.2" height="17.2" fill="#8B0000" fill-opacity="0.75" stroke="#1a1a1a" stroke-width="0.7"/>
<rect x="580.60" y="1555.80" width="17.2" height="17.2" fill="#8B0000" fill-opacity="0.75" stroke="#1a1a1a" stroke-width="0.7"/>
<rect x="575.20" y="1552.90" width="17.2" height="17.2" fill="#8B0000" fill-opacity="0.75" stroke="#1a1a1a" stroke-width="0.7"/>
<rect x="602.40" y="1539.40" width="17.2" height="17.2" fill="#8B0000" fill-opacity="0.75" stroke="#1a1a1a" stroke-width="0.7"/>
<rect x="604.20" y="1549.20" width="17.2" height="17.2" fill="#8B0000" fill-opacity="0.75" stroke="#1a1a1a" stroke-width="0.7"/>
<rect x="607.90" y="1555.10" width="17.2" height="17.2" fill="#8B0000" fill-opacity="0.75" stroke="#1a1a1a" stroke-width="0.7"/>
<rect x="606.10" y="1562.00" width="17.2" height="17.2" fill="#8B0000" fill-opacity="0.75" stroke="#1a1a1a" stroke-width="0.7"/>
<rect x="614.40" y="1569.60" width="17.2" height="17.2" fill="#8B0000" fill-opacity="0.75" stroke="#1a1a1a" stroke-width="0.7"/>
<rect x="612.60" y="1583.00" width="17.2" height="17.2" fill="#8B0000" fill-opacity="0.75" stroke="#1a1a1a" stroke-width="0.7"/>
<rect x="622.40" y="1599.40" width="17.2" height="17.2" fill="#8B0000" fill-opacity="0.75" stroke="#1a1a1a" stroke-width="0.7"/>
<rect x="567.90" y="1604.10" width="17.2" height="17.2" fill="#8B0000" fill-opacity="0.75" stroke="#1a1a1a" stroke-width="0.7"/>
<rect x="628.60" y="1550.30" width="17.2" height="17.2" fill="#8B0000" fill-opacity="0.75" stroke="#1a1a1a" stroke-width="0.7"/>
<rect x="644.20" y="1559.40" width="17.2" height="17.2" fill="#8B0000" fill-opacity="0.75" stroke="#1a1a1a" stroke-width="0.7"/>
<rect x="662.40" y="1552.20" width="17.2" height="17.2" fill="#8B0000" fill-opacity="0.75" stroke="#1a1a1a" stroke-width="0.7"/>
<rect x="747.80" y="1594.70" width="17.2" height="17.2" fill="#8B0000" fill-opacity="0.75" stroke="#1a1a1a" stroke-width="0.7"/>
<rect x="526.60" y="1783.20" width="17.2" height="17.2" fill="#8B0000" fill-opacity="0.75" stroke="#1a1a1a" stroke-width="0.7"/>
<line x1="585.75" y1="1350.4" x2="585.75" y2="1812.3" stroke="#3a3a3a" stroke-width="2.5" stroke-dasharray="2.5,7.9" stroke-dashoffset="8.66"/>
<line x1="284.2" y1="1511.1" x2="792.2" y2="1511.1" stroke="#87CEEB" stroke-width="1.7" stroke-dasharray="10.3,10.6" stroke-dashoffset="0.8"/>
</g>
<rect x="284.2" y="1350.4" width="508.00" height="461.90" fill="none" stroke="#333" stroke-width="1.4"/>
<line x1="385.70" y1="1812.3" x2="385.70" y2="1816.8" stroke="#333" stroke-width="2.1"/>
<text x="385.70" y="1839.60" font-size="26.8" text-anchor="middle" fill="#4d4d4d" >0</text>
<line x1="487.82" y1="1812.3" x2="487.82" y2="1816.8" stroke="#333" stroke-width="2.1"/>
<text x="487.82" y="1839.60" font-size="26.8" text-anchor="middle" fill="#4d4d4d" >500</text>
<line x1="589.95" y1="1812.3" x2="589.95" y2="1816.8" stroke="#333" stroke-width="2.1"/>
<text x="591.95" y="1839.60" font-size="26.8" text-anchor="middle" fill="#4d4d4d" >1000</text>
<line x1="692.08" y1="1812.3" x2="692.08" y2="1816.8" stroke="#333" stroke-width="2.1"/>
<text x="694.08" y="1839.60" font-size="26.8" text-anchor="middle" fill="#4d4d4d" >1500</text>
<line x1="279.7" y1="1791.80" x2="284.2" y2="1791.80" stroke="#333" stroke-width="2.1"/>
<text x="277.30" y="1801.30" font-size="27" text-anchor="end" fill="#4d4d4d" >0</text>
<line x1="279.7" y1="1707.02" x2="284.2" y2="1707.02" stroke="#333" stroke-width="2.1"/>
<text x="277.30" y="1716.52" font-size="27" text-anchor="end" fill="#4d4d4d" >5000</text>
<line x1="279.7" y1="1622.24" x2="284.2" y2="1622.24" stroke="#333" stroke-width="2.1"/>
<text x="277.30" y="1631.74" font-size="27" text-anchor="end" fill="#4d4d4d" >10000</text>
<line x1="279.7" y1="1537.46" x2="284.2" y2="1537.46" stroke="#333" stroke-width="2.1"/>
<text x="277.30" y="1546.96" font-size="27" text-anchor="end" fill="#4d4d4d" >15000</text>
<line x1="279.7" y1="1452.68" x2="284.2" y2="1452.68" stroke="#333" stroke-width="2.1"/>
<text x="277.30" y="1462.18" font-size="27" text-anchor="end" fill="#4d4d4d" >20000</text>
<line x1="279.7" y1="1367.90" x2="284.2" y2="1367.90" stroke="#333" stroke-width="2.1"/>
<text x="277.30" y="1377.40" font-size="27" text-anchor="end" fill="#4d4d4d" >25000</text>
<text x="540.70" y="1879.40" font-size="26.3" text-anchor="middle" font-weight="bold" fill="#000" >TSC2 Y1571</text>
<text x="0" y="0" font-size="26.4" font-weight="bold" text-anchor="middle" fill="#000" transform="translate(178,1596.2) rotate(-90)">c-Myc T58/S62</text>
<circle cx="311" cy="1920.4" r="15.9" fill="#006400" stroke="#111" stroke-width="1"/>
<path d="M397.7,1900.9 L417.4,1920.4 L397.7,1939.9 L378,1920.4 Z" fill="#A020F0" stroke="#111" stroke-width="1"/>
<path d="M536.3,1904.6 L556,1924 L536.3,1943.5 L516.6,1924 Z" fill="#FFA500" stroke="#111" stroke-width="1"/>
<circle cx="690.5" cy="1926.3" r="16" fill="#e5e5e5" stroke="#444" stroke-width="1.1"/>
<rect x="752.2" y="1912.4" width="27.7" height="27.8" fill="#8B0000"/>
<text x="309.50" y="1961.00" font-size="22.4" text-anchor="middle" fill="#000" >HD</text>
<text x="402.10" y="1961.00" font-size="21.7" text-anchor="middle" fill="#000" >Adenoma</text>
<text x="540.80" y="1962.50" font-size="21.9" text-anchor="middle" fill="#000" >Inflammatory</text>
<text x="540.20" y="1983.10" font-size="22.2" text-anchor="middle" fill="#000" >Disease</text>
<text x="692.00" y="1971.50" font-size="21.9" text-anchor="middle" fill="#000" >Controls</text>
<text x="767.90" y="1971.50" font-size="21.9" text-anchor="middle" fill="#000" >PCa</text>
<path d="M348.6,1973.9 L348.6,1999.4 L607.8,1999.4 L607.8,1973.9" fill="none" stroke="#555" stroke-width="1.4"/>
<text x="477.40" y="2030.60" font-size="28.5" text-anchor="middle" fill="#000" >Hypertrophic</text></svg></body></html>
